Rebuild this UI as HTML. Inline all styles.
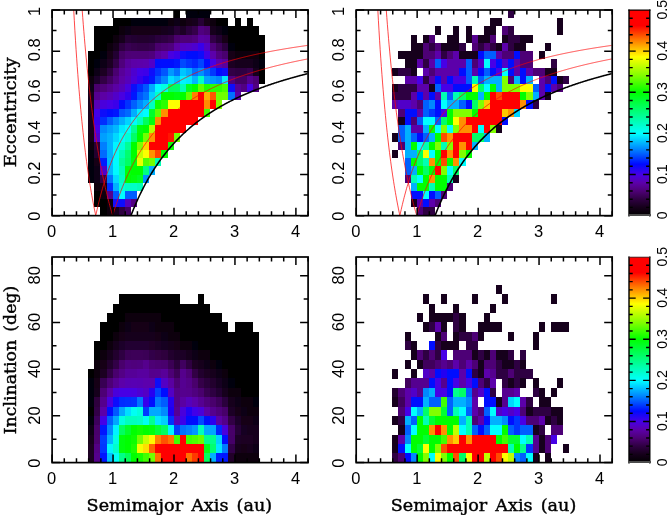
<!DOCTYPE html>
<html><head><meta charset="utf-8"><title>plot</title><style>html,body{margin:0;padding:0;background:#fff}svg{display:block}</style></head><body>
<svg width="667" height="515" viewBox="0 0 667 515">
<rect width="667" height="515" fill="#fff"/>
<style>.t{font-family:"Liberation Sans",sans-serif;font-size:16.5px;fill:#000}.s{font-family:"DejaVu Serif","Liberation Serif",serif;font-size:17.4px;fill:#000;stroke:#000;stroke-width:0.42px;word-spacing:2.5px}</style>
<defs><linearGradient id="cb" x1="0" y1="1" x2="0" y2="0"><stop offset="0.0000" stop-color="#000000"/><stop offset="0.0400" stop-color="#15001a"/><stop offset="0.0800" stop-color="#2f0042"/><stop offset="0.1200" stop-color="#4e0076"/><stop offset="0.1600" stop-color="#5c00aa"/><stop offset="0.2000" stop-color="#4600e6"/><stop offset="0.2500" stop-color="#000aff"/><stop offset="0.3200" stop-color="#0080ff"/><stop offset="0.4000" stop-color="#00ffff"/><stop offset="0.5000" stop-color="#00ff80"/><stop offset="0.6000" stop-color="#00ff00"/><stop offset="0.6800" stop-color="#80ff00"/><stop offset="0.7720" stop-color="#ffff00"/><stop offset="0.8500" stop-color="#ff8000"/><stop offset="0.9240" stop-color="#ff0000"/><stop offset="1.0000" stop-color="#ff0000"/></linearGradient><filter id="bl" x="-5%" y="-5%" width="110%" height="110%"><feGaussianBlur stdDeviation="0.55"/></filter></defs>
<g shape-rendering="crispEdges" filter="url(#bl)">
<rect x="173.60" y="10.00" width="6.09" height="8.23" fill="#050006"/>
<rect x="185.79" y="10.00" width="6.09" height="8.23" fill="#050007"/>
<rect x="191.88" y="10.00" width="12.19" height="8.23" fill="#060007"/>
<rect x="204.08" y="10.00" width="6.09" height="8.23" fill="#050007"/>
<rect x="112.65" y="18.23" width="6.09" height="8.23" fill="#000000"/>
<rect x="118.75" y="18.23" width="6.10" height="8.23" fill="#010002"/>
<rect x="124.84" y="18.23" width="6.09" height="8.23" fill="#040005"/>
<rect x="130.94" y="18.23" width="36.57" height="8.23" fill="#060007"/>
<rect x="167.50" y="18.23" width="6.10" height="8.23" fill="#09000b"/>
<rect x="173.60" y="18.23" width="6.09" height="8.23" fill="#0f0013"/>
<rect x="179.70" y="18.23" width="6.09" height="8.23" fill="#0b000e"/>
<rect x="185.79" y="18.23" width="6.09" height="8.23" fill="#120017"/>
<rect x="191.88" y="18.23" width="6.10" height="8.23" fill="#17001e"/>
<rect x="197.98" y="18.23" width="6.10" height="8.23" fill="#270036"/>
<rect x="204.08" y="18.23" width="6.09" height="8.23" fill="#130018"/>
<rect x="210.17" y="18.23" width="6.10" height="8.23" fill="#08000a"/>
<rect x="216.27" y="18.23" width="6.09" height="8.23" fill="#040005"/>
<rect x="222.36" y="18.23" width="6.10" height="8.23" fill="#020002"/>
<rect x="234.55" y="18.23" width="6.10" height="8.23" fill="#000000"/>
<rect x="246.74" y="18.23" width="6.10" height="8.23" fill="#000000"/>
<rect x="94.37" y="26.45" width="12.19" height="8.23" fill="#000000"/>
<rect x="106.56" y="26.45" width="6.09" height="8.23" fill="#010002"/>
<rect x="112.65" y="26.45" width="6.09" height="8.23" fill="#030004"/>
<rect x="118.75" y="26.45" width="6.10" height="8.23" fill="#070008"/>
<rect x="124.84" y="26.45" width="6.09" height="8.23" fill="#110015"/>
<rect x="130.94" y="26.45" width="6.10" height="8.23" fill="#140018"/>
<rect x="137.03" y="26.45" width="12.19" height="8.23" fill="#130018"/>
<rect x="149.22" y="26.45" width="6.09" height="8.23" fill="#140018"/>
<rect x="155.31" y="26.45" width="6.10" height="8.23" fill="#150019"/>
<rect x="161.41" y="26.45" width="6.09" height="8.23" fill="#15001a"/>
<rect x="167.50" y="26.45" width="6.10" height="8.23" fill="#190021"/>
<rect x="173.60" y="26.45" width="6.09" height="8.23" fill="#270036"/>
<rect x="179.70" y="26.45" width="6.09" height="8.23" fill="#1e0028"/>
<rect x="185.79" y="26.45" width="6.09" height="8.23" fill="#2c003e"/>
<rect x="191.88" y="26.45" width="6.10" height="8.23" fill="#34004b"/>
<rect x="197.98" y="26.45" width="6.10" height="8.23" fill="#50007f"/>
<rect x="204.08" y="26.45" width="6.09" height="8.23" fill="#4c0072"/>
<rect x="210.17" y="26.45" width="6.10" height="8.23" fill="#17001e"/>
<rect x="216.27" y="26.45" width="6.09" height="8.23" fill="#110015"/>
<rect x="222.36" y="26.45" width="6.10" height="8.23" fill="#060008"/>
<rect x="228.46" y="26.45" width="6.09" height="8.23" fill="#010001"/>
<rect x="234.55" y="26.45" width="24.38" height="8.23" fill="#000000"/>
<rect x="94.37" y="34.68" width="12.19" height="8.23" fill="#000000"/>
<rect x="106.56" y="34.68" width="6.09" height="8.23" fill="#030004"/>
<rect x="112.65" y="34.68" width="6.09" height="8.23" fill="#0e0011"/>
<rect x="118.75" y="34.68" width="6.10" height="8.23" fill="#18001f"/>
<rect x="124.84" y="34.68" width="6.09" height="8.23" fill="#260035"/>
<rect x="130.94" y="34.68" width="6.10" height="8.23" fill="#240031"/>
<rect x="137.03" y="34.68" width="12.19" height="8.23" fill="#22002e"/>
<rect x="149.22" y="34.68" width="6.09" height="8.23" fill="#240031"/>
<rect x="155.31" y="34.68" width="6.10" height="8.23" fill="#2c003d"/>
<rect x="161.41" y="34.68" width="6.09" height="8.23" fill="#2f0042"/>
<rect x="167.50" y="34.68" width="6.10" height="8.23" fill="#34004a"/>
<rect x="173.60" y="34.68" width="6.09" height="8.23" fill="#49006e"/>
<rect x="179.70" y="34.68" width="6.09" height="8.23" fill="#4e0078"/>
<rect x="185.79" y="34.68" width="6.09" height="8.23" fill="#4e0077"/>
<rect x="191.88" y="34.68" width="6.10" height="8.23" fill="#510080"/>
<rect x="197.98" y="34.68" width="6.10" height="8.23" fill="#5a00a4"/>
<rect x="204.08" y="34.68" width="6.09" height="8.23" fill="#59009f"/>
<rect x="210.17" y="34.68" width="6.10" height="8.23" fill="#320047"/>
<rect x="216.27" y="34.68" width="6.09" height="8.23" fill="#230030"/>
<rect x="222.36" y="34.68" width="6.10" height="8.23" fill="#130017"/>
<rect x="228.46" y="34.68" width="6.09" height="8.23" fill="#030004"/>
<rect x="234.55" y="34.68" width="30.48" height="8.23" fill="#000000"/>
<rect x="94.37" y="42.90" width="6.09" height="8.23" fill="#000000"/>
<rect x="100.46" y="42.90" width="6.09" height="8.23" fill="#010001"/>
<rect x="106.56" y="42.90" width="6.09" height="8.23" fill="#070009"/>
<rect x="112.65" y="42.90" width="6.09" height="8.23" fill="#17001c"/>
<rect x="118.75" y="42.90" width="6.10" height="8.23" fill="#2d003f"/>
<rect x="124.84" y="42.90" width="6.09" height="8.23" fill="#390053"/>
<rect x="130.94" y="42.90" width="6.10" height="8.23" fill="#35004b"/>
<rect x="137.03" y="42.90" width="12.19" height="8.23" fill="#310046"/>
<rect x="149.22" y="42.90" width="6.09" height="8.23" fill="#36004d"/>
<rect x="155.31" y="42.90" width="6.10" height="8.23" fill="#49006d"/>
<rect x="161.41" y="42.90" width="6.09" height="8.23" fill="#4e0075"/>
<rect x="167.50" y="42.90" width="6.10" height="8.23" fill="#50007e"/>
<rect x="173.60" y="42.90" width="6.09" height="8.23" fill="#5b00a7"/>
<rect x="179.70" y="42.90" width="6.09" height="8.23" fill="#5400c0"/>
<rect x="185.79" y="42.90" width="6.09" height="8.23" fill="#5200c6"/>
<rect x="191.88" y="42.90" width="6.10" height="8.23" fill="#4e00d0"/>
<rect x="197.98" y="42.90" width="6.10" height="8.23" fill="#3902eb"/>
<rect x="204.08" y="42.90" width="6.09" height="8.23" fill="#5200c5"/>
<rect x="210.17" y="42.90" width="6.10" height="8.23" fill="#4f007b"/>
<rect x="216.27" y="42.90" width="6.09" height="8.23" fill="#3d005a"/>
<rect x="222.36" y="42.90" width="6.10" height="8.23" fill="#2c003e"/>
<rect x="228.46" y="42.90" width="6.09" height="8.23" fill="#060008"/>
<rect x="234.55" y="42.90" width="12.19" height="8.23" fill="#020002"/>
<rect x="246.74" y="42.90" width="6.10" height="8.23" fill="#030003"/>
<rect x="252.84" y="42.90" width="6.09" height="8.23" fill="#020002"/>
<rect x="258.93" y="42.90" width="6.10" height="8.23" fill="#010001"/>
<rect x="88.27" y="51.13" width="6.09" height="8.23" fill="#000000"/>
<rect x="94.37" y="51.13" width="6.09" height="8.23" fill="#010001"/>
<rect x="100.46" y="51.13" width="6.09" height="8.23" fill="#060007"/>
<rect x="106.56" y="51.13" width="6.09" height="8.23" fill="#120016"/>
<rect x="112.65" y="51.13" width="6.09" height="8.23" fill="#230030"/>
<rect x="118.75" y="51.13" width="6.10" height="8.23" fill="#440065"/>
<rect x="124.84" y="51.13" width="6.09" height="8.23" fill="#4e0075"/>
<rect x="130.94" y="51.13" width="6.10" height="8.23" fill="#4e0077"/>
<rect x="137.03" y="51.13" width="12.19" height="8.23" fill="#4e0076"/>
<rect x="149.22" y="51.13" width="6.09" height="8.23" fill="#50007d"/>
<rect x="155.31" y="51.13" width="6.10" height="8.23" fill="#59009e"/>
<rect x="161.41" y="51.13" width="6.09" height="8.23" fill="#5b00ac"/>
<rect x="167.50" y="51.13" width="6.10" height="8.23" fill="#4800e1"/>
<rect x="173.60" y="51.13" width="6.09" height="8.23" fill="#3e01e9"/>
<rect x="179.70" y="51.13" width="6.09" height="8.23" fill="#0a09fc"/>
<rect x="185.79" y="51.13" width="6.09" height="8.23" fill="#0409fe"/>
<rect x="191.88" y="51.13" width="6.10" height="8.23" fill="#0509fd"/>
<rect x="197.98" y="51.13" width="6.10" height="8.23" fill="#0b08fb"/>
<rect x="204.08" y="51.13" width="6.09" height="8.23" fill="#4101e8"/>
<rect x="210.17" y="51.13" width="6.10" height="8.23" fill="#5c00ab"/>
<rect x="216.27" y="51.13" width="6.09" height="8.23" fill="#510080"/>
<rect x="222.36" y="51.13" width="6.10" height="8.23" fill="#49006e"/>
<rect x="228.46" y="51.13" width="6.09" height="8.23" fill="#120016"/>
<rect x="234.55" y="51.13" width="6.10" height="8.23" fill="#08000a"/>
<rect x="240.65" y="51.13" width="6.09" height="8.23" fill="#09000b"/>
<rect x="246.74" y="51.13" width="6.10" height="8.23" fill="#0b000d"/>
<rect x="252.84" y="51.13" width="6.09" height="8.23" fill="#08000a"/>
<rect x="258.93" y="51.13" width="6.10" height="8.23" fill="#030004"/>
<rect x="88.27" y="59.36" width="6.09" height="8.23" fill="#010002"/>
<rect x="94.37" y="59.36" width="6.09" height="8.23" fill="#060007"/>
<rect x="100.46" y="59.36" width="6.09" height="8.23" fill="#110014"/>
<rect x="106.56" y="59.36" width="6.09" height="8.23" fill="#1b0024"/>
<rect x="112.65" y="59.36" width="6.09" height="8.23" fill="#320047"/>
<rect x="118.75" y="59.36" width="6.10" height="8.23" fill="#50007c"/>
<rect x="124.84" y="59.36" width="6.09" height="8.23" fill="#58009c"/>
<rect x="130.94" y="59.36" width="6.10" height="8.23" fill="#5b00a7"/>
<rect x="137.03" y="59.36" width="6.09" height="8.23" fill="#5c00aa"/>
<rect x="143.12" y="59.36" width="6.10" height="8.23" fill="#5b00ad"/>
<rect x="149.22" y="59.36" width="6.09" height="8.23" fill="#5100c7"/>
<rect x="155.31" y="59.36" width="6.10" height="8.23" fill="#0509fd"/>
<rect x="161.41" y="59.36" width="6.09" height="8.23" fill="#000cff"/>
<rect x="167.50" y="59.36" width="6.10" height="8.23" fill="#030afe"/>
<rect x="173.60" y="59.36" width="6.09" height="8.23" fill="#0012ff"/>
<rect x="179.70" y="59.36" width="6.09" height="8.23" fill="#0049ff"/>
<rect x="185.79" y="59.36" width="6.09" height="8.23" fill="#0034ff"/>
<rect x="191.88" y="59.36" width="6.10" height="8.23" fill="#0026ff"/>
<rect x="197.98" y="59.36" width="6.10" height="8.23" fill="#0044ff"/>
<rect x="204.08" y="59.36" width="6.09" height="8.23" fill="#000dff"/>
<rect x="210.17" y="59.36" width="6.10" height="8.23" fill="#4400e7"/>
<rect x="216.27" y="59.36" width="6.09" height="8.23" fill="#5a00af"/>
<rect x="222.36" y="59.36" width="6.10" height="8.23" fill="#59009e"/>
<rect x="228.46" y="59.36" width="6.09" height="8.23" fill="#1b0023"/>
<rect x="234.55" y="59.36" width="6.10" height="8.23" fill="#17001d"/>
<rect x="240.65" y="59.36" width="6.09" height="8.23" fill="#17001c"/>
<rect x="246.74" y="59.36" width="6.10" height="8.23" fill="#16001b"/>
<rect x="252.84" y="59.36" width="6.09" height="8.23" fill="#0f0013"/>
<rect x="258.93" y="59.36" width="6.10" height="8.23" fill="#050007"/>
<rect x="88.27" y="67.58" width="6.09" height="8.23" fill="#050006"/>
<rect x="94.37" y="67.58" width="6.09" height="8.23" fill="#110015"/>
<rect x="100.46" y="67.58" width="6.09" height="8.23" fill="#1c0024"/>
<rect x="106.56" y="67.58" width="6.09" height="8.23" fill="#2e0040"/>
<rect x="112.65" y="67.58" width="6.09" height="8.23" fill="#4a006f"/>
<rect x="118.75" y="67.58" width="6.10" height="8.23" fill="#580099"/>
<rect x="124.84" y="67.58" width="6.09" height="8.23" fill="#5a00af"/>
<rect x="130.94" y="67.58" width="6.10" height="8.23" fill="#4e00cf"/>
<rect x="137.03" y="67.58" width="6.09" height="8.23" fill="#4300e7"/>
<rect x="143.12" y="67.58" width="6.10" height="8.23" fill="#3e01e9"/>
<rect x="149.22" y="67.58" width="6.09" height="8.23" fill="#0909fc"/>
<rect x="155.31" y="67.58" width="6.10" height="8.23" fill="#0030ff"/>
<rect x="161.41" y="67.58" width="6.09" height="8.23" fill="#0057ff"/>
<rect x="167.50" y="67.58" width="6.10" height="8.23" fill="#0098ff"/>
<rect x="173.60" y="67.58" width="6.09" height="8.23" fill="#0071ff"/>
<rect x="179.70" y="67.58" width="6.09" height="8.23" fill="#00c5ff"/>
<rect x="185.79" y="67.58" width="6.09" height="8.23" fill="#00adff"/>
<rect x="191.88" y="67.58" width="6.10" height="8.23" fill="#0071ff"/>
<rect x="197.98" y="67.58" width="6.10" height="8.23" fill="#008fff"/>
<rect x="204.08" y="67.58" width="6.09" height="8.23" fill="#0064ff"/>
<rect x="210.17" y="67.58" width="6.10" height="8.23" fill="#0038ff"/>
<rect x="216.27" y="67.58" width="6.09" height="8.23" fill="#000fff"/>
<rect x="222.36" y="67.58" width="6.10" height="8.23" fill="#0809fc"/>
<rect x="228.46" y="67.58" width="6.09" height="8.23" fill="#300044"/>
<rect x="234.55" y="67.58" width="6.10" height="8.23" fill="#2d0040"/>
<rect x="240.65" y="67.58" width="6.09" height="8.23" fill="#2f0042"/>
<rect x="246.74" y="67.58" width="6.10" height="8.23" fill="#35004c"/>
<rect x="252.84" y="67.58" width="6.09" height="8.23" fill="#15001a"/>
<rect x="258.93" y="67.58" width="6.10" height="8.23" fill="#050006"/>
<rect x="88.27" y="75.81" width="6.09" height="8.23" fill="#08000a"/>
<rect x="94.37" y="75.81" width="6.09" height="8.23" fill="#1f002a"/>
<rect x="100.46" y="75.81" width="6.09" height="8.23" fill="#310045"/>
<rect x="106.56" y="75.81" width="6.09" height="8.23" fill="#420062"/>
<rect x="112.65" y="75.81" width="6.09" height="8.23" fill="#510083"/>
<rect x="118.75" y="75.81" width="6.10" height="8.23" fill="#5b00a5"/>
<rect x="124.84" y="75.81" width="6.09" height="8.23" fill="#5600ba"/>
<rect x="130.94" y="75.81" width="6.10" height="8.23" fill="#4b00d9"/>
<rect x="137.03" y="75.81" width="6.09" height="8.23" fill="#3502ec"/>
<rect x="143.12" y="75.81" width="6.10" height="8.23" fill="#1c06f5"/>
<rect x="149.22" y="75.81" width="6.09" height="8.23" fill="#0015ff"/>
<rect x="155.31" y="75.81" width="6.10" height="8.23" fill="#005aff"/>
<rect x="161.41" y="75.81" width="6.09" height="8.23" fill="#0088ff"/>
<rect x="167.50" y="75.81" width="6.10" height="8.23" fill="#00dfff"/>
<rect x="173.60" y="75.81" width="6.09" height="8.23" fill="#00c1ff"/>
<rect x="179.70" y="75.81" width="6.09" height="8.23" fill="#00f2ff"/>
<rect x="185.79" y="75.81" width="6.09" height="8.23" fill="#00e9ff"/>
<rect x="191.88" y="75.81" width="6.10" height="8.23" fill="#00b4ff"/>
<rect x="197.98" y="75.81" width="6.10" height="8.23" fill="#00ffc5"/>
<rect x="204.08" y="75.81" width="6.09" height="8.23" fill="#00a3ff"/>
<rect x="210.17" y="75.81" width="6.10" height="8.23" fill="#0096ff"/>
<rect x="216.27" y="75.81" width="6.09" height="8.23" fill="#0086ff"/>
<rect x="222.36" y="75.81" width="6.10" height="8.23" fill="#00e8ff"/>
<rect x="228.46" y="75.81" width="6.09" height="8.23" fill="#50007f"/>
<rect x="234.55" y="75.81" width="6.10" height="8.23" fill="#420063"/>
<rect x="240.65" y="75.81" width="6.09" height="8.23" fill="#430064"/>
<rect x="246.74" y="75.81" width="6.10" height="8.23" fill="#54008d"/>
<rect x="252.84" y="75.81" width="6.09" height="8.23" fill="#4d0074"/>
<rect x="258.93" y="75.81" width="6.10" height="8.23" fill="#040005"/>
<rect x="88.27" y="84.03" width="6.09" height="8.23" fill="#0f0012"/>
<rect x="94.37" y="84.03" width="6.09" height="8.23" fill="#48006c"/>
<rect x="100.46" y="84.03" width="6.09" height="8.23" fill="#4f007a"/>
<rect x="106.56" y="84.03" width="6.09" height="8.23" fill="#54008e"/>
<rect x="112.65" y="84.03" width="6.09" height="8.23" fill="#5a00a4"/>
<rect x="118.75" y="84.03" width="6.10" height="8.23" fill="#5700b9"/>
<rect x="124.84" y="84.03" width="6.09" height="8.23" fill="#4900dd"/>
<rect x="130.94" y="84.03" width="6.10" height="8.23" fill="#0f08fa"/>
<rect x="137.03" y="84.03" width="6.09" height="8.23" fill="#002dff"/>
<rect x="143.12" y="84.03" width="6.10" height="8.23" fill="#0056ff"/>
<rect x="149.22" y="84.03" width="6.09" height="8.23" fill="#00a9ff"/>
<rect x="155.31" y="84.03" width="6.10" height="8.23" fill="#00faff"/>
<rect x="161.41" y="84.03" width="6.09" height="8.23" fill="#00ffe0"/>
<rect x="167.50" y="84.03" width="6.10" height="8.23" fill="#00ff5f"/>
<rect x="173.60" y="84.03" width="6.09" height="8.23" fill="#00ff64"/>
<rect x="179.70" y="84.03" width="6.09" height="8.23" fill="#00ffb4"/>
<rect x="185.79" y="84.03" width="6.09" height="8.23" fill="#00ff24"/>
<rect x="191.88" y="84.03" width="6.10" height="8.23" fill="#02ff00"/>
<rect x="197.98" y="84.03" width="6.10" height="8.23" fill="#62ff00"/>
<rect x="204.08" y="84.03" width="6.09" height="8.23" fill="#1fff00"/>
<rect x="210.17" y="84.03" width="6.10" height="8.23" fill="#2cff00"/>
<rect x="216.27" y="84.03" width="6.09" height="8.23" fill="#2aff00"/>
<rect x="222.36" y="84.03" width="6.10" height="8.23" fill="#47ff00"/>
<rect x="228.46" y="84.03" width="6.09" height="8.23" fill="#0709fc"/>
<rect x="234.55" y="84.03" width="6.10" height="8.23" fill="#570098"/>
<rect x="240.65" y="84.03" width="6.09" height="8.23" fill="#510082"/>
<rect x="246.74" y="84.03" width="6.10" height="8.23" fill="#4600e5"/>
<rect x="252.84" y="84.03" width="6.09" height="8.23" fill="#510080"/>
<rect x="88.27" y="92.26" width="6.09" height="8.23" fill="#17001c"/>
<rect x="94.37" y="92.26" width="6.09" height="8.23" fill="#550090"/>
<rect x="100.46" y="92.26" width="6.09" height="8.23" fill="#5b00a5"/>
<rect x="106.56" y="92.26" width="6.09" height="8.23" fill="#5800b4"/>
<rect x="112.65" y="92.26" width="6.09" height="8.23" fill="#5100c8"/>
<rect x="118.75" y="92.26" width="6.10" height="8.23" fill="#4800e1"/>
<rect x="124.84" y="92.26" width="6.09" height="8.23" fill="#3303ed"/>
<rect x="130.94" y="92.26" width="6.10" height="8.23" fill="#0018ff"/>
<rect x="137.03" y="92.26" width="6.09" height="8.23" fill="#0057ff"/>
<rect x="143.12" y="92.26" width="6.10" height="8.23" fill="#0073ff"/>
<rect x="149.22" y="92.26" width="6.09" height="8.23" fill="#00d1ff"/>
<rect x="155.31" y="92.26" width="6.10" height="8.23" fill="#00ffca"/>
<rect x="161.41" y="92.26" width="6.09" height="8.23" fill="#06ff00"/>
<rect x="167.50" y="92.26" width="6.10" height="8.23" fill="#00ff05"/>
<rect x="173.60" y="92.26" width="6.09" height="8.23" fill="#00ff0b"/>
<rect x="179.70" y="92.26" width="6.09" height="8.23" fill="#00ff02"/>
<rect x="185.79" y="92.26" width="6.09" height="8.23" fill="#62ff00"/>
<rect x="191.88" y="92.26" width="6.10" height="8.23" fill="#ff7f00"/>
<rect x="197.98" y="92.26" width="6.10" height="8.23" fill="#ff0000"/>
<rect x="204.08" y="92.26" width="6.09" height="8.23" fill="#ffab00"/>
<rect x="210.17" y="92.26" width="6.10" height="8.23" fill="#ff5700"/>
<rect x="216.27" y="92.26" width="6.09" height="8.23" fill="#6eff00"/>
<rect x="222.36" y="92.26" width="6.10" height="8.23" fill="#70ff00"/>
<rect x="228.46" y="92.26" width="6.09" height="8.23" fill="#0072ff"/>
<rect x="234.55" y="92.26" width="6.10" height="8.23" fill="#5b00a8"/>
<rect x="88.27" y="100.49" width="6.09" height="8.23" fill="#17001e"/>
<rect x="94.37" y="100.49" width="6.09" height="8.23" fill="#5800b5"/>
<rect x="100.46" y="100.49" width="6.09" height="8.23" fill="#4a00dc"/>
<rect x="106.56" y="100.49" width="6.09" height="8.23" fill="#4400e7"/>
<rect x="112.65" y="100.49" width="6.09" height="8.23" fill="#3a02ea"/>
<rect x="118.75" y="100.49" width="6.10" height="8.23" fill="#0509fd"/>
<rect x="124.84" y="100.49" width="6.09" height="8.23" fill="#0033ff"/>
<rect x="130.94" y="100.49" width="6.10" height="8.23" fill="#005eff"/>
<rect x="137.03" y="100.49" width="6.09" height="8.23" fill="#0089ff"/>
<rect x="143.12" y="100.49" width="6.10" height="8.23" fill="#00afff"/>
<rect x="149.22" y="100.49" width="6.09" height="8.23" fill="#00ffc0"/>
<rect x="155.31" y="100.49" width="6.10" height="8.23" fill="#0eff00"/>
<rect x="161.41" y="100.49" width="6.09" height="8.23" fill="#29ff00"/>
<rect x="167.50" y="100.49" width="6.10" height="8.23" fill="#fffe00"/>
<rect x="173.60" y="100.49" width="6.09" height="8.23" fill="#fcff00"/>
<rect x="179.70" y="100.49" width="24.38" height="8.23" fill="#ff0000"/>
<rect x="204.08" y="100.49" width="6.09" height="8.23" fill="#ff8c00"/>
<rect x="210.17" y="100.49" width="6.10" height="8.23" fill="#ff0000"/>
<rect x="216.27" y="100.49" width="6.09" height="8.23" fill="#80ff00"/>
<rect x="88.27" y="108.71" width="6.09" height="8.23" fill="#16001b"/>
<rect x="94.37" y="108.71" width="6.09" height="8.23" fill="#4201e7"/>
<rect x="100.46" y="108.71" width="6.09" height="8.23" fill="#0f08fa"/>
<rect x="106.56" y="108.71" width="6.09" height="8.23" fill="#020afe"/>
<rect x="112.65" y="108.71" width="6.09" height="8.23" fill="#0014ff"/>
<rect x="118.75" y="108.71" width="6.10" height="8.23" fill="#0057ff"/>
<rect x="124.84" y="108.71" width="6.09" height="8.23" fill="#006aff"/>
<rect x="130.94" y="108.71" width="6.10" height="8.23" fill="#00adff"/>
<rect x="137.03" y="108.71" width="6.09" height="8.23" fill="#00f1ff"/>
<rect x="143.12" y="108.71" width="6.10" height="8.23" fill="#00fdff"/>
<rect x="149.22" y="108.71" width="6.09" height="8.23" fill="#00ff2b"/>
<rect x="155.31" y="108.71" width="6.10" height="8.23" fill="#5eff00"/>
<rect x="161.41" y="108.71" width="6.09" height="8.23" fill="#ff8e00"/>
<rect x="167.50" y="108.71" width="36.57" height="8.23" fill="#ff0000"/>
<rect x="204.08" y="108.71" width="6.09" height="8.23" fill="#40ff00"/>
<rect x="88.27" y="116.94" width="6.09" height="8.23" fill="#15001b"/>
<rect x="94.37" y="116.94" width="6.09" height="8.23" fill="#3902eb"/>
<rect x="100.46" y="116.94" width="6.09" height="8.23" fill="#002fff"/>
<rect x="106.56" y="116.94" width="6.09" height="8.23" fill="#005dff"/>
<rect x="112.65" y="116.94" width="6.09" height="8.23" fill="#0087ff"/>
<rect x="118.75" y="116.94" width="6.10" height="8.23" fill="#00aeff"/>
<rect x="124.84" y="116.94" width="6.09" height="8.23" fill="#00d4ff"/>
<rect x="130.94" y="116.94" width="6.10" height="8.23" fill="#00fbff"/>
<rect x="137.03" y="116.94" width="6.09" height="8.23" fill="#00ffbe"/>
<rect x="143.12" y="116.94" width="6.10" height="8.23" fill="#00ff5a"/>
<rect x="149.22" y="116.94" width="6.09" height="8.23" fill="#00ff0e"/>
<rect x="155.31" y="116.94" width="6.10" height="8.23" fill="#ff8800"/>
<rect x="161.41" y="116.94" width="36.57" height="8.23" fill="#ff0000"/>
<rect x="88.27" y="125.16" width="6.09" height="8.23" fill="#16001b"/>
<rect x="94.37" y="125.16" width="6.09" height="8.23" fill="#4600e5"/>
<rect x="100.46" y="125.16" width="6.09" height="8.23" fill="#0089ff"/>
<rect x="106.56" y="125.16" width="6.09" height="8.23" fill="#00a0ff"/>
<rect x="112.65" y="125.16" width="6.09" height="8.23" fill="#00b7ff"/>
<rect x="118.75" y="125.16" width="6.10" height="8.23" fill="#00eaff"/>
<rect x="124.84" y="125.16" width="6.09" height="8.23" fill="#00fffd"/>
<rect x="130.94" y="125.16" width="6.10" height="8.23" fill="#00ff96"/>
<rect x="137.03" y="125.16" width="6.09" height="8.23" fill="#00ff07"/>
<rect x="143.12" y="125.16" width="6.10" height="8.23" fill="#02ff00"/>
<rect x="149.22" y="125.16" width="6.09" height="8.23" fill="#b5ff00"/>
<rect x="155.31" y="125.16" width="30.48" height="8.23" fill="#ff0000"/>
<rect x="88.27" y="133.39" width="6.09" height="8.23" fill="#130018"/>
<rect x="94.37" y="133.39" width="6.09" height="8.23" fill="#5000cb"/>
<rect x="100.46" y="133.39" width="6.09" height="8.23" fill="#009fff"/>
<rect x="106.56" y="133.39" width="6.09" height="8.23" fill="#00b2ff"/>
<rect x="112.65" y="133.39" width="6.09" height="8.23" fill="#00d8ff"/>
<rect x="118.75" y="133.39" width="6.10" height="8.23" fill="#00fffb"/>
<rect x="124.84" y="133.39" width="6.09" height="8.23" fill="#00ffd9"/>
<rect x="130.94" y="133.39" width="6.10" height="8.23" fill="#00ff67"/>
<rect x="137.03" y="133.39" width="6.09" height="8.23" fill="#06ff00"/>
<rect x="143.12" y="133.39" width="6.10" height="8.23" fill="#6fff00"/>
<rect x="149.22" y="133.39" width="6.09" height="8.23" fill="#ff9200"/>
<rect x="155.31" y="133.39" width="12.19" height="8.23" fill="#ff0000"/>
<rect x="167.50" y="133.39" width="6.10" height="8.23" fill="#ff1800"/>
<rect x="173.60" y="133.39" width="6.09" height="8.23" fill="#76ff00"/>
<rect x="88.27" y="141.62" width="6.09" height="8.23" fill="#09000b"/>
<rect x="94.37" y="141.62" width="6.09" height="8.23" fill="#290038"/>
<rect x="100.46" y="141.62" width="6.09" height="8.23" fill="#007fff"/>
<rect x="106.56" y="141.62" width="6.09" height="8.23" fill="#00b2ff"/>
<rect x="112.65" y="141.62" width="6.09" height="8.23" fill="#00f4ff"/>
<rect x="118.75" y="141.62" width="6.10" height="8.23" fill="#00ffdc"/>
<rect x="124.84" y="141.62" width="6.09" height="8.23" fill="#00ff95"/>
<rect x="130.94" y="141.62" width="6.10" height="8.23" fill="#00ff06"/>
<rect x="137.03" y="141.62" width="6.09" height="8.23" fill="#7bff00"/>
<rect x="143.12" y="141.62" width="6.10" height="8.23" fill="#ffd300"/>
<rect x="149.22" y="141.62" width="18.28" height="8.23" fill="#ff0000"/>
<rect x="167.50" y="141.62" width="6.10" height="8.23" fill="#08ff00"/>
<rect x="88.27" y="149.84" width="6.09" height="8.23" fill="#060007"/>
<rect x="94.37" y="149.84" width="6.09" height="8.23" fill="#23002f"/>
<rect x="100.46" y="149.84" width="6.09" height="8.23" fill="#006aff"/>
<rect x="106.56" y="149.84" width="6.09" height="8.23" fill="#00b2ff"/>
<rect x="112.65" y="149.84" width="6.09" height="8.23" fill="#00fcff"/>
<rect x="118.75" y="149.84" width="6.10" height="8.23" fill="#00ffb3"/>
<rect x="124.84" y="149.84" width="6.09" height="8.23" fill="#00ff6e"/>
<rect x="130.94" y="149.84" width="6.10" height="8.23" fill="#00ff06"/>
<rect x="137.03" y="149.84" width="6.09" height="8.23" fill="#c5ff00"/>
<rect x="143.12" y="149.84" width="6.10" height="8.23" fill="#fdff00"/>
<rect x="149.22" y="149.84" width="6.09" height="8.23" fill="#ff9100"/>
<rect x="155.31" y="149.84" width="6.10" height="8.23" fill="#ff4300"/>
<rect x="161.41" y="149.84" width="6.09" height="8.23" fill="#00ff01"/>
<rect x="88.27" y="158.07" width="6.09" height="8.23" fill="#060007"/>
<rect x="94.37" y="158.07" width="6.09" height="8.23" fill="#120016"/>
<rect x="100.46" y="158.07" width="6.09" height="8.23" fill="#001cff"/>
<rect x="106.56" y="158.07" width="6.09" height="8.23" fill="#00b9ff"/>
<rect x="112.65" y="158.07" width="6.09" height="8.23" fill="#00fbff"/>
<rect x="118.75" y="158.07" width="6.10" height="8.23" fill="#00ff98"/>
<rect x="124.84" y="158.07" width="6.09" height="8.23" fill="#00ff63"/>
<rect x="130.94" y="158.07" width="6.10" height="8.23" fill="#00ff08"/>
<rect x="137.03" y="158.07" width="6.09" height="8.23" fill="#ebff00"/>
<rect x="143.12" y="158.07" width="6.10" height="8.23" fill="#52ff00"/>
<rect x="149.22" y="158.07" width="6.09" height="8.23" fill="#73ff00"/>
<rect x="155.31" y="158.07" width="6.10" height="8.23" fill="#00ffb5"/>
<rect x="88.27" y="166.29" width="6.09" height="8.23" fill="#060007"/>
<rect x="94.37" y="166.29" width="6.09" height="8.23" fill="#110015"/>
<rect x="100.46" y="166.29" width="6.09" height="8.23" fill="#5000ca"/>
<rect x="106.56" y="166.29" width="6.09" height="8.23" fill="#00b6ff"/>
<rect x="112.65" y="166.29" width="6.09" height="8.23" fill="#00f9ff"/>
<rect x="118.75" y="166.29" width="6.10" height="8.23" fill="#00ffb6"/>
<rect x="124.84" y="166.29" width="6.09" height="8.23" fill="#00ff08"/>
<rect x="130.94" y="166.29" width="6.10" height="8.23" fill="#00ff05"/>
<rect x="137.03" y="166.29" width="6.09" height="8.23" fill="#00ff06"/>
<rect x="143.12" y="166.29" width="6.10" height="8.23" fill="#00ff7f"/>
<rect x="149.22" y="166.29" width="6.09" height="8.23" fill="#00adff"/>
<rect x="88.27" y="174.52" width="6.09" height="8.23" fill="#050007"/>
<rect x="94.37" y="174.52" width="6.09" height="8.23" fill="#110015"/>
<rect x="100.46" y="174.52" width="6.09" height="8.23" fill="#310045"/>
<rect x="106.56" y="174.52" width="6.09" height="8.23" fill="#0073ff"/>
<rect x="112.65" y="174.52" width="6.09" height="8.23" fill="#00daff"/>
<rect x="118.75" y="174.52" width="6.10" height="8.23" fill="#00ffc4"/>
<rect x="124.84" y="174.52" width="6.09" height="8.23" fill="#00ff02"/>
<rect x="130.94" y="174.52" width="6.10" height="8.23" fill="#00ff08"/>
<rect x="137.03" y="174.52" width="6.09" height="8.23" fill="#00ff24"/>
<rect x="143.12" y="174.52" width="6.10" height="8.23" fill="#0092ff"/>
<rect x="94.37" y="182.75" width="6.09" height="8.23" fill="#080009"/>
<rect x="100.46" y="182.75" width="6.09" height="8.23" fill="#120016"/>
<rect x="106.56" y="182.75" width="6.09" height="8.23" fill="#0029ff"/>
<rect x="112.65" y="182.75" width="6.09" height="8.23" fill="#00b2ff"/>
<rect x="118.75" y="182.75" width="6.10" height="8.23" fill="#00ffdd"/>
<rect x="124.84" y="182.75" width="6.09" height="8.23" fill="#00ffc6"/>
<rect x="130.94" y="182.75" width="6.10" height="8.23" fill="#00ffc7"/>
<rect x="137.03" y="182.75" width="6.09" height="8.23" fill="#00ffb9"/>
<rect x="94.37" y="190.97" width="6.09" height="8.23" fill="#030004"/>
<rect x="100.46" y="190.97" width="6.09" height="8.23" fill="#09000b"/>
<rect x="106.56" y="190.97" width="6.09" height="8.23" fill="#54008b"/>
<rect x="112.65" y="190.97" width="6.09" height="8.23" fill="#0059ff"/>
<rect x="118.75" y="190.97" width="6.10" height="8.23" fill="#00fdff"/>
<rect x="124.84" y="190.97" width="6.09" height="8.23" fill="#005dff"/>
<rect x="130.94" y="190.97" width="6.10" height="8.23" fill="#005fff"/>
<rect x="94.37" y="199.20" width="6.09" height="8.23" fill="#010001"/>
<rect x="100.46" y="199.20" width="6.09" height="8.23" fill="#040005"/>
<rect x="106.56" y="199.20" width="6.09" height="8.23" fill="#0d0010"/>
<rect x="112.65" y="199.20" width="6.09" height="8.23" fill="#1207f8"/>
<rect x="118.75" y="199.20" width="6.10" height="8.23" fill="#0709fc"/>
<rect x="124.84" y="199.20" width="6.09" height="8.23" fill="#5500bd"/>
<rect x="130.94" y="199.20" width="6.10" height="8.23" fill="#510080"/>
<rect x="100.46" y="207.42" width="6.09" height="8.23" fill="#020002"/>
<rect x="106.56" y="207.42" width="6.09" height="8.23" fill="#070008"/>
<rect x="112.65" y="207.42" width="6.09" height="8.23" fill="#15001a"/>
<rect x="118.75" y="207.42" width="6.10" height="8.23" fill="#2f0041"/>
<rect x="124.84" y="207.42" width="6.09" height="8.23" fill="#420062"/>
</g>
<g shape-rendering="crispEdges" filter="url(#bl)">
<rect x="508.18" y="10.00" width="6.09" height="8.23" fill="#2f0042"/>
<rect x="489.89" y="18.23" width="12.19" height="8.23" fill="#15001a"/>
<rect x="556.94" y="18.23" width="6.09" height="8.23" fill="#15001a"/>
<rect x="435.04" y="26.45" width="6.09" height="8.23" fill="#15001a"/>
<rect x="453.32" y="26.45" width="6.09" height="8.23" fill="#15001a"/>
<rect x="465.51" y="26.45" width="6.10" height="8.23" fill="#15001a"/>
<rect x="483.80" y="26.45" width="12.19" height="8.23" fill="#15001a"/>
<rect x="502.08" y="26.45" width="6.10" height="8.23" fill="#4e0076"/>
<rect x="508.18" y="26.45" width="6.09" height="8.23" fill="#2f0042"/>
<rect x="556.94" y="26.45" width="6.09" height="8.23" fill="#15001a"/>
<rect x="410.66" y="34.68" width="6.09" height="8.23" fill="#15001a"/>
<rect x="422.85" y="34.68" width="6.10" height="8.23" fill="#15001a"/>
<rect x="428.94" y="34.68" width="6.09" height="8.23" fill="#4e0076"/>
<rect x="447.23" y="34.68" width="12.19" height="8.23" fill="#15001a"/>
<rect x="465.51" y="34.68" width="6.10" height="8.23" fill="#15001a"/>
<rect x="471.61" y="34.68" width="6.10" height="8.23" fill="#550090"/>
<rect x="477.70" y="34.68" width="12.19" height="8.23" fill="#15001a"/>
<rect x="489.89" y="34.68" width="6.10" height="8.23" fill="#4e0076"/>
<rect x="502.08" y="34.68" width="6.10" height="8.23" fill="#15001a"/>
<rect x="508.18" y="34.68" width="12.19" height="8.23" fill="#2f0042"/>
<rect x="520.37" y="34.68" width="12.19" height="8.23" fill="#15001a"/>
<rect x="410.66" y="42.90" width="12.19" height="8.23" fill="#15001a"/>
<rect x="422.85" y="42.90" width="6.10" height="8.23" fill="#4e0076"/>
<rect x="428.94" y="42.90" width="6.09" height="8.23" fill="#2f0042"/>
<rect x="435.04" y="42.90" width="6.09" height="8.23" fill="#4e0076"/>
<rect x="441.13" y="42.90" width="18.29" height="8.23" fill="#15001a"/>
<rect x="459.42" y="42.90" width="6.09" height="8.23" fill="#2f0042"/>
<rect x="471.61" y="42.90" width="6.10" height="8.23" fill="#4e0076"/>
<rect x="477.70" y="42.90" width="6.09" height="8.23" fill="#2f0042"/>
<rect x="483.80" y="42.90" width="6.09" height="8.23" fill="#4e0076"/>
<rect x="489.89" y="42.90" width="6.10" height="8.23" fill="#2f0042"/>
<rect x="495.99" y="42.90" width="6.10" height="8.23" fill="#15001a"/>
<rect x="502.08" y="42.90" width="6.10" height="8.23" fill="#5c00aa"/>
<rect x="508.18" y="42.90" width="6.09" height="8.23" fill="#2f0042"/>
<rect x="514.27" y="42.90" width="12.19" height="8.23" fill="#15001a"/>
<rect x="544.75" y="42.90" width="6.10" height="8.23" fill="#15001a"/>
<rect x="398.47" y="51.13" width="24.38" height="8.23" fill="#15001a"/>
<rect x="422.85" y="51.13" width="12.19" height="8.23" fill="#4e0076"/>
<rect x="435.04" y="51.13" width="6.09" height="8.23" fill="#5c00aa"/>
<rect x="441.13" y="51.13" width="6.10" height="8.23" fill="#2f0042"/>
<rect x="447.23" y="51.13" width="6.10" height="8.23" fill="#4e0076"/>
<rect x="453.32" y="51.13" width="6.09" height="8.23" fill="#5c00aa"/>
<rect x="459.42" y="51.13" width="18.29" height="8.23" fill="#15001a"/>
<rect x="477.70" y="51.13" width="6.09" height="8.23" fill="#000aff"/>
<rect x="483.80" y="51.13" width="12.19" height="8.23" fill="#005eff"/>
<rect x="495.99" y="51.13" width="6.10" height="8.23" fill="#5c00aa"/>
<rect x="502.08" y="51.13" width="12.19" height="8.23" fill="#4e0076"/>
<rect x="514.27" y="51.13" width="6.10" height="8.23" fill="#000aff"/>
<rect x="520.37" y="51.13" width="12.19" height="8.23" fill="#4e0076"/>
<rect x="538.65" y="51.13" width="6.09" height="8.23" fill="#15001a"/>
<rect x="404.56" y="59.36" width="12.19" height="8.23" fill="#15001a"/>
<rect x="416.75" y="59.36" width="6.10" height="8.23" fill="#5c00aa"/>
<rect x="422.85" y="59.36" width="6.10" height="8.23" fill="#2f0042"/>
<rect x="428.94" y="59.36" width="6.09" height="8.23" fill="#5c00aa"/>
<rect x="435.04" y="59.36" width="6.09" height="8.23" fill="#005eff"/>
<rect x="441.13" y="59.36" width="6.10" height="8.23" fill="#4600e6"/>
<rect x="447.23" y="59.36" width="18.28" height="8.23" fill="#5c00aa"/>
<rect x="465.51" y="59.36" width="6.10" height="8.23" fill="#005eff"/>
<rect x="471.61" y="59.36" width="6.10" height="8.23" fill="#4e0076"/>
<rect x="477.70" y="59.36" width="6.09" height="8.23" fill="#5100c8"/>
<rect x="483.80" y="59.36" width="6.09" height="8.23" fill="#00ffff"/>
<rect x="489.89" y="59.36" width="6.10" height="8.23" fill="#4600e6"/>
<rect x="495.99" y="59.36" width="6.10" height="8.23" fill="#000aff"/>
<rect x="502.08" y="59.36" width="6.10" height="8.23" fill="#5100c8"/>
<rect x="508.18" y="59.36" width="6.09" height="8.23" fill="#000aff"/>
<rect x="514.27" y="59.36" width="6.10" height="8.23" fill="#5c00aa"/>
<rect x="520.37" y="59.36" width="12.19" height="8.23" fill="#4e0076"/>
<rect x="550.84" y="59.36" width="6.10" height="8.23" fill="#2f0042"/>
<rect x="392.37" y="67.58" width="6.10" height="8.23" fill="#15001a"/>
<rect x="398.47" y="67.58" width="12.19" height="8.23" fill="#2f0042"/>
<rect x="410.66" y="67.58" width="6.09" height="8.23" fill="#15001a"/>
<rect x="422.85" y="67.58" width="6.10" height="8.23" fill="#5c00aa"/>
<rect x="428.94" y="67.58" width="6.09" height="8.23" fill="#4e0076"/>
<rect x="435.04" y="67.58" width="24.38" height="8.23" fill="#5c00aa"/>
<rect x="459.42" y="67.58" width="6.09" height="8.23" fill="#000aff"/>
<rect x="465.51" y="67.58" width="6.10" height="8.23" fill="#005eff"/>
<rect x="471.61" y="67.58" width="6.10" height="8.23" fill="#5c00aa"/>
<rect x="477.70" y="67.58" width="6.09" height="8.23" fill="#000aff"/>
<rect x="483.80" y="67.58" width="6.09" height="8.23" fill="#005eff"/>
<rect x="489.89" y="67.58" width="6.10" height="8.23" fill="#000aff"/>
<rect x="495.99" y="67.58" width="6.10" height="8.23" fill="#4600e6"/>
<rect x="502.08" y="67.58" width="6.10" height="8.23" fill="#00ffff"/>
<rect x="508.18" y="67.58" width="6.09" height="8.23" fill="#000aff"/>
<rect x="514.27" y="67.58" width="6.10" height="8.23" fill="#5c00aa"/>
<rect x="520.37" y="67.58" width="6.10" height="8.23" fill="#000aff"/>
<rect x="526.46" y="67.58" width="6.10" height="8.23" fill="#5c00aa"/>
<rect x="532.56" y="67.58" width="12.19" height="8.23" fill="#4e0076"/>
<rect x="544.75" y="67.58" width="12.19" height="8.23" fill="#15001a"/>
<rect x="404.56" y="75.81" width="12.19" height="8.23" fill="#5c00aa"/>
<rect x="416.75" y="75.81" width="6.10" height="8.23" fill="#4600e6"/>
<rect x="422.85" y="75.81" width="6.10" height="8.23" fill="#2f0042"/>
<rect x="428.94" y="75.81" width="6.09" height="8.23" fill="#5c00aa"/>
<rect x="435.04" y="75.81" width="6.09" height="8.23" fill="#000aff"/>
<rect x="441.13" y="75.81" width="6.10" height="8.23" fill="#5c00aa"/>
<rect x="447.23" y="75.81" width="6.10" height="8.23" fill="#000aff"/>
<rect x="453.32" y="75.81" width="12.19" height="8.23" fill="#4600e6"/>
<rect x="465.51" y="75.81" width="6.10" height="8.23" fill="#005eff"/>
<rect x="471.61" y="75.81" width="6.10" height="8.23" fill="#00ffb3"/>
<rect x="477.70" y="75.81" width="6.09" height="8.23" fill="#005eff"/>
<rect x="483.80" y="75.81" width="18.29" height="8.23" fill="#00b0ff"/>
<rect x="502.08" y="75.81" width="6.10" height="8.23" fill="#80ff00"/>
<rect x="508.18" y="75.81" width="6.09" height="8.23" fill="#4e0076"/>
<rect x="514.27" y="75.81" width="6.10" height="8.23" fill="#00b0ff"/>
<rect x="520.37" y="75.81" width="6.10" height="8.23" fill="#000aff"/>
<rect x="526.46" y="75.81" width="6.10" height="8.23" fill="#00b0ff"/>
<rect x="538.65" y="75.81" width="6.09" height="8.23" fill="#5c00aa"/>
<rect x="544.75" y="75.81" width="6.10" height="8.23" fill="#4e0076"/>
<rect x="550.84" y="75.81" width="6.10" height="8.23" fill="#000aff"/>
<rect x="556.94" y="75.81" width="6.09" height="8.23" fill="#15001a"/>
<rect x="563.03" y="75.81" width="6.10" height="8.23" fill="#2f0042"/>
<rect x="392.37" y="84.03" width="6.10" height="8.23" fill="#15001a"/>
<rect x="398.47" y="84.03" width="18.28" height="8.23" fill="#2f0042"/>
<rect x="416.75" y="84.03" width="12.19" height="8.23" fill="#5c00aa"/>
<rect x="428.94" y="84.03" width="6.09" height="8.23" fill="#15001a"/>
<rect x="435.04" y="84.03" width="6.09" height="8.23" fill="#005eff"/>
<rect x="441.13" y="84.03" width="12.19" height="8.23" fill="#4600e6"/>
<rect x="453.32" y="84.03" width="18.28" height="8.23" fill="#000aff"/>
<rect x="471.61" y="84.03" width="6.10" height="8.23" fill="#fcff00"/>
<rect x="477.70" y="84.03" width="6.09" height="8.23" fill="#00ff66"/>
<rect x="483.80" y="84.03" width="6.09" height="8.23" fill="#00ffff"/>
<rect x="489.89" y="84.03" width="6.10" height="8.23" fill="#00ff00"/>
<rect x="495.99" y="84.03" width="6.10" height="8.23" fill="#00b0ff"/>
<rect x="502.08" y="84.03" width="18.28" height="8.23" fill="#80ff00"/>
<rect x="520.37" y="84.03" width="12.19" height="8.23" fill="#fcff00"/>
<rect x="532.56" y="84.03" width="6.10" height="8.23" fill="#005eff"/>
<rect x="538.65" y="84.03" width="6.09" height="8.23" fill="#5c00aa"/>
<rect x="544.75" y="84.03" width="6.10" height="8.23" fill="#000aff"/>
<rect x="550.84" y="84.03" width="6.10" height="8.23" fill="#5c00aa"/>
<rect x="556.94" y="84.03" width="6.09" height="8.23" fill="#4e0076"/>
<rect x="392.37" y="92.26" width="18.29" height="8.23" fill="#2f0042"/>
<rect x="410.66" y="92.26" width="6.09" height="8.23" fill="#5c00aa"/>
<rect x="416.75" y="92.26" width="6.10" height="8.23" fill="#000aff"/>
<rect x="422.85" y="92.26" width="6.10" height="8.23" fill="#5c00aa"/>
<rect x="428.94" y="92.26" width="6.09" height="8.23" fill="#000aff"/>
<rect x="435.04" y="92.26" width="6.09" height="8.23" fill="#5c00aa"/>
<rect x="441.13" y="92.26" width="6.10" height="8.23" fill="#00ffb3"/>
<rect x="447.23" y="92.26" width="6.10" height="8.23" fill="#005eff"/>
<rect x="453.32" y="92.26" width="6.09" height="8.23" fill="#00ffb3"/>
<rect x="459.42" y="92.26" width="6.09" height="8.23" fill="#00ff66"/>
<rect x="465.51" y="92.26" width="12.19" height="8.23" fill="#00ff00"/>
<rect x="477.70" y="92.26" width="6.09" height="8.23" fill="#00b0ff"/>
<rect x="483.80" y="92.26" width="6.09" height="8.23" fill="#00ff00"/>
<rect x="489.89" y="92.26" width="6.10" height="8.23" fill="#ff0000"/>
<rect x="495.99" y="92.26" width="6.10" height="8.23" fill="#ff4c00"/>
<rect x="502.08" y="92.26" width="18.28" height="8.23" fill="#ff0000"/>
<rect x="520.37" y="92.26" width="6.10" height="8.23" fill="#00ff00"/>
<rect x="526.46" y="92.26" width="6.10" height="8.23" fill="#80ff00"/>
<rect x="532.56" y="92.26" width="6.10" height="8.23" fill="#00b0ff"/>
<rect x="538.65" y="92.26" width="6.09" height="8.23" fill="#5c00aa"/>
<rect x="544.75" y="92.26" width="6.10" height="8.23" fill="#15001a"/>
<rect x="392.37" y="100.49" width="6.10" height="8.23" fill="#5c00aa"/>
<rect x="398.47" y="100.49" width="12.19" height="8.23" fill="#5100c8"/>
<rect x="410.66" y="100.49" width="6.09" height="8.23" fill="#5c00aa"/>
<rect x="416.75" y="100.49" width="6.10" height="8.23" fill="#4e0076"/>
<rect x="422.85" y="100.49" width="6.10" height="8.23" fill="#005eff"/>
<rect x="428.94" y="100.49" width="6.09" height="8.23" fill="#0088ff"/>
<rect x="435.04" y="100.49" width="6.09" height="8.23" fill="#000aff"/>
<rect x="441.13" y="100.49" width="6.10" height="8.23" fill="#00ffff"/>
<rect x="447.23" y="100.49" width="12.19" height="8.23" fill="#00b0ff"/>
<rect x="459.42" y="100.49" width="6.09" height="8.23" fill="#005eff"/>
<rect x="465.51" y="100.49" width="6.10" height="8.23" fill="#000aff"/>
<rect x="471.61" y="100.49" width="6.10" height="8.23" fill="#00ff66"/>
<rect x="477.70" y="100.49" width="6.09" height="8.23" fill="#80ff00"/>
<rect x="483.80" y="100.49" width="6.09" height="8.23" fill="#ffc900"/>
<rect x="489.89" y="100.49" width="30.48" height="8.23" fill="#ff0000"/>
<rect x="520.37" y="100.49" width="6.10" height="8.23" fill="#ff9000"/>
<rect x="526.46" y="100.49" width="6.10" height="8.23" fill="#000aff"/>
<rect x="532.56" y="100.49" width="6.10" height="8.23" fill="#2f0042"/>
<rect x="398.47" y="108.71" width="6.09" height="8.23" fill="#4e0076"/>
<rect x="404.56" y="108.71" width="12.19" height="8.23" fill="#000aff"/>
<rect x="416.75" y="108.71" width="6.10" height="8.23" fill="#5c00aa"/>
<rect x="422.85" y="108.71" width="6.10" height="8.23" fill="#005eff"/>
<rect x="428.94" y="108.71" width="6.09" height="8.23" fill="#0034ff"/>
<rect x="435.04" y="108.71" width="6.09" height="8.23" fill="#000aff"/>
<rect x="441.13" y="108.71" width="6.10" height="8.23" fill="#4600e6"/>
<rect x="447.23" y="108.71" width="6.10" height="8.23" fill="#00ff00"/>
<rect x="453.32" y="108.71" width="18.28" height="8.23" fill="#80ff00"/>
<rect x="471.61" y="108.71" width="6.10" height="8.23" fill="#00ff00"/>
<rect x="477.70" y="108.71" width="24.38" height="8.23" fill="#ff0000"/>
<rect x="502.08" y="108.71" width="6.10" height="8.23" fill="#ffc900"/>
<rect x="508.18" y="108.71" width="6.09" height="8.23" fill="#ff9000"/>
<rect x="514.27" y="108.71" width="6.10" height="8.23" fill="#00d7ff"/>
<rect x="398.47" y="116.94" width="6.09" height="8.23" fill="#15001a"/>
<rect x="404.56" y="116.94" width="6.10" height="8.23" fill="#000aff"/>
<rect x="410.66" y="116.94" width="6.09" height="8.23" fill="#4e0076"/>
<rect x="416.75" y="116.94" width="6.10" height="8.23" fill="#005eff"/>
<rect x="422.85" y="116.94" width="12.19" height="8.23" fill="#00ffff"/>
<rect x="435.04" y="116.94" width="6.09" height="8.23" fill="#005eff"/>
<rect x="441.13" y="116.94" width="6.10" height="8.23" fill="#00ff66"/>
<rect x="447.23" y="116.94" width="6.10" height="8.23" fill="#00ff00"/>
<rect x="453.32" y="116.94" width="6.09" height="8.23" fill="#fcff00"/>
<rect x="459.42" y="116.94" width="6.09" height="8.23" fill="#ff9000"/>
<rect x="465.51" y="116.94" width="36.57" height="8.23" fill="#ff0000"/>
<rect x="502.08" y="116.94" width="6.10" height="8.23" fill="#000aff"/>
<rect x="398.47" y="125.16" width="6.09" height="8.23" fill="#005eff"/>
<rect x="404.56" y="125.16" width="6.10" height="8.23" fill="#00b0ff"/>
<rect x="410.66" y="125.16" width="12.19" height="8.23" fill="#5c00aa"/>
<rect x="422.85" y="125.16" width="6.10" height="8.23" fill="#00b0ff"/>
<rect x="428.94" y="125.16" width="6.09" height="8.23" fill="#00ff00"/>
<rect x="435.04" y="125.16" width="6.09" height="8.23" fill="#00ffff"/>
<rect x="441.13" y="125.16" width="6.10" height="8.23" fill="#80ff00"/>
<rect x="447.23" y="125.16" width="6.10" height="8.23" fill="#00ffff"/>
<rect x="453.32" y="125.16" width="6.09" height="8.23" fill="#80ff00"/>
<rect x="459.42" y="125.16" width="12.19" height="8.23" fill="#ff9000"/>
<rect x="471.61" y="125.16" width="6.10" height="8.23" fill="#ff0000"/>
<rect x="477.70" y="125.16" width="6.09" height="8.23" fill="#00ffff"/>
<rect x="483.80" y="125.16" width="6.09" height="8.23" fill="#ff0000"/>
<rect x="489.89" y="125.16" width="6.10" height="8.23" fill="#80ff00"/>
<rect x="495.99" y="125.16" width="6.10" height="8.23" fill="#15001a"/>
<rect x="392.37" y="133.39" width="6.10" height="8.23" fill="#15001a"/>
<rect x="398.47" y="133.39" width="6.09" height="8.23" fill="#005eff"/>
<rect x="404.56" y="133.39" width="6.10" height="8.23" fill="#00b0ff"/>
<rect x="410.66" y="133.39" width="6.09" height="8.23" fill="#005eff"/>
<rect x="416.75" y="133.39" width="6.10" height="8.23" fill="#000aff"/>
<rect x="422.85" y="133.39" width="6.10" height="8.23" fill="#005eff"/>
<rect x="428.94" y="133.39" width="6.09" height="8.23" fill="#00b0ff"/>
<rect x="435.04" y="133.39" width="6.09" height="8.23" fill="#00ff00"/>
<rect x="441.13" y="133.39" width="6.10" height="8.23" fill="#ff4c00"/>
<rect x="447.23" y="133.39" width="6.10" height="8.23" fill="#ff9000"/>
<rect x="453.32" y="133.39" width="18.28" height="8.23" fill="#ff0000"/>
<rect x="471.61" y="133.39" width="12.19" height="8.23" fill="#00ff66"/>
<rect x="483.80" y="133.39" width="6.09" height="8.23" fill="#00b0ff"/>
<rect x="398.47" y="141.62" width="6.09" height="8.23" fill="#4e0076"/>
<rect x="404.56" y="141.62" width="6.10" height="8.23" fill="#00b0ff"/>
<rect x="410.66" y="141.62" width="6.09" height="8.23" fill="#00ff00"/>
<rect x="416.75" y="141.62" width="6.10" height="8.23" fill="#00ffff"/>
<rect x="422.85" y="141.62" width="6.10" height="8.23" fill="#00ffb3"/>
<rect x="428.94" y="141.62" width="6.09" height="8.23" fill="#00ff00"/>
<rect x="435.04" y="141.62" width="6.09" height="8.23" fill="#80ff00"/>
<rect x="441.13" y="141.62" width="6.10" height="8.23" fill="#00ffb3"/>
<rect x="447.23" y="141.62" width="6.10" height="8.23" fill="#80ff00"/>
<rect x="453.32" y="141.62" width="6.09" height="8.23" fill="#ff0000"/>
<rect x="459.42" y="141.62" width="6.09" height="8.23" fill="#ff9000"/>
<rect x="465.51" y="141.62" width="6.10" height="8.23" fill="#ff0000"/>
<rect x="471.61" y="141.62" width="6.10" height="8.23" fill="#00b0ff"/>
<rect x="392.37" y="149.84" width="6.10" height="8.23" fill="#15001a"/>
<rect x="404.56" y="149.84" width="12.19" height="8.23" fill="#00b0ff"/>
<rect x="416.75" y="149.84" width="6.10" height="8.23" fill="#00ff66"/>
<rect x="422.85" y="149.84" width="6.10" height="8.23" fill="#fcff00"/>
<rect x="428.94" y="149.84" width="6.09" height="8.23" fill="#00ffff"/>
<rect x="435.04" y="149.84" width="6.09" height="8.23" fill="#00ff00"/>
<rect x="441.13" y="149.84" width="6.10" height="8.23" fill="#ff0000"/>
<rect x="447.23" y="149.84" width="6.10" height="8.23" fill="#ff9000"/>
<rect x="453.32" y="149.84" width="6.09" height="8.23" fill="#ff0000"/>
<rect x="459.42" y="149.84" width="6.09" height="8.23" fill="#80ff00"/>
<rect x="465.51" y="149.84" width="6.10" height="8.23" fill="#00ff00"/>
<rect x="404.56" y="158.07" width="6.10" height="8.23" fill="#005eff"/>
<rect x="410.66" y="158.07" width="6.09" height="8.23" fill="#00ff00"/>
<rect x="416.75" y="158.07" width="6.10" height="8.23" fill="#00ff66"/>
<rect x="422.85" y="158.07" width="6.10" height="8.23" fill="#00ffb3"/>
<rect x="428.94" y="158.07" width="6.09" height="8.23" fill="#ff9000"/>
<rect x="435.04" y="158.07" width="6.09" height="8.23" fill="#00ff00"/>
<rect x="441.13" y="158.07" width="6.10" height="8.23" fill="#ff4c00"/>
<rect x="447.23" y="158.07" width="6.10" height="8.23" fill="#00ff00"/>
<rect x="453.32" y="158.07" width="6.09" height="8.23" fill="#ff9000"/>
<rect x="459.42" y="158.07" width="6.09" height="8.23" fill="#00ffff"/>
<rect x="404.56" y="166.29" width="6.10" height="8.23" fill="#005eff"/>
<rect x="410.66" y="166.29" width="6.09" height="8.23" fill="#00b0ff"/>
<rect x="416.75" y="166.29" width="6.10" height="8.23" fill="#00ff00"/>
<rect x="422.85" y="166.29" width="6.10" height="8.23" fill="#00ff66"/>
<rect x="428.94" y="166.29" width="6.09" height="8.23" fill="#00ff00"/>
<rect x="435.04" y="166.29" width="6.09" height="8.23" fill="#ff0000"/>
<rect x="441.13" y="166.29" width="6.10" height="8.23" fill="#80ff00"/>
<rect x="447.23" y="166.29" width="6.10" height="8.23" fill="#00ffff"/>
<rect x="453.32" y="166.29" width="6.09" height="8.23" fill="#00ff66"/>
<rect x="404.56" y="174.52" width="6.10" height="8.23" fill="#4e0076"/>
<rect x="410.66" y="174.52" width="6.09" height="8.23" fill="#00ffb3"/>
<rect x="416.75" y="174.52" width="6.10" height="8.23" fill="#00ffff"/>
<rect x="422.85" y="174.52" width="6.10" height="8.23" fill="#00ff00"/>
<rect x="428.94" y="174.52" width="6.09" height="8.23" fill="#ff9000"/>
<rect x="435.04" y="174.52" width="12.19" height="8.23" fill="#00ff00"/>
<rect x="447.23" y="174.52" width="6.10" height="8.23" fill="#00ffb3"/>
<rect x="453.32" y="174.52" width="6.09" height="8.23" fill="#15001a"/>
<rect x="410.66" y="182.75" width="6.09" height="8.23" fill="#00b0ff"/>
<rect x="416.75" y="182.75" width="12.19" height="8.23" fill="#00ff00"/>
<rect x="428.94" y="182.75" width="6.09" height="8.23" fill="#00ffb3"/>
<rect x="435.04" y="182.75" width="12.19" height="8.23" fill="#00ff00"/>
<rect x="447.23" y="182.75" width="6.10" height="8.23" fill="#4e0076"/>
<rect x="410.66" y="190.97" width="12.19" height="8.23" fill="#000aff"/>
<rect x="422.85" y="190.97" width="6.10" height="8.23" fill="#00ffff"/>
<rect x="428.94" y="190.97" width="6.09" height="8.23" fill="#000aff"/>
<rect x="435.04" y="190.97" width="6.09" height="8.23" fill="#005eff"/>
<rect x="441.13" y="190.97" width="6.10" height="8.23" fill="#4e0076"/>
<rect x="410.66" y="199.20" width="6.09" height="8.23" fill="#15001a"/>
<rect x="416.75" y="199.20" width="6.10" height="8.23" fill="#5c00aa"/>
<rect x="422.85" y="199.20" width="6.10" height="8.23" fill="#000aff"/>
<rect x="428.94" y="199.20" width="6.09" height="8.23" fill="#5c00aa"/>
<rect x="435.04" y="199.20" width="6.09" height="8.23" fill="#4e0076"/>
<rect x="416.75" y="207.42" width="6.10" height="8.23" fill="#4e0076"/>
<rect x="422.85" y="207.42" width="12.19" height="8.23" fill="#2f0042"/>
</g>
<g shape-rendering="crispEdges" filter="url(#bl)">
<rect x="118.75" y="294.38" width="60.95" height="9.35" fill="#000000"/>
<rect x="197.98" y="294.38" width="6.10" height="9.35" fill="#000000"/>
<rect x="112.65" y="303.73" width="6.09" height="9.35" fill="#000000"/>
<rect x="118.75" y="303.73" width="6.10" height="9.35" fill="#010001"/>
<rect x="124.84" y="303.73" width="6.09" height="9.35" fill="#020002"/>
<rect x="130.94" y="303.73" width="24.38" height="9.35" fill="#030003"/>
<rect x="155.31" y="303.73" width="6.10" height="9.35" fill="#020002"/>
<rect x="161.41" y="303.73" width="6.09" height="9.35" fill="#010001"/>
<rect x="167.50" y="303.73" width="42.67" height="9.35" fill="#000000"/>
<rect x="106.56" y="313.07" width="6.09" height="9.35" fill="#000000"/>
<rect x="112.65" y="313.07" width="6.09" height="9.35" fill="#010001"/>
<rect x="118.75" y="313.07" width="6.10" height="9.35" fill="#040005"/>
<rect x="124.84" y="313.07" width="6.09" height="9.35" fill="#08000b"/>
<rect x="130.94" y="313.07" width="18.29" height="9.35" fill="#0b000d"/>
<rect x="149.22" y="313.07" width="6.09" height="9.35" fill="#0a000c"/>
<rect x="155.31" y="313.07" width="6.10" height="9.35" fill="#070009"/>
<rect x="161.41" y="313.07" width="6.09" height="9.35" fill="#040005"/>
<rect x="167.50" y="313.07" width="6.10" height="9.35" fill="#020002"/>
<rect x="173.60" y="313.07" width="6.09" height="9.35" fill="#010001"/>
<rect x="179.70" y="313.07" width="42.66" height="9.35" fill="#000000"/>
<rect x="100.46" y="322.42" width="6.09" height="9.35" fill="#000000"/>
<rect x="106.56" y="322.42" width="6.09" height="9.35" fill="#010001"/>
<rect x="112.65" y="322.42" width="6.09" height="9.35" fill="#040005"/>
<rect x="118.75" y="322.42" width="6.10" height="9.35" fill="#0a000d"/>
<rect x="124.84" y="322.42" width="6.09" height="9.35" fill="#110015"/>
<rect x="130.94" y="322.42" width="18.29" height="9.35" fill="#120017"/>
<rect x="149.22" y="322.42" width="6.09" height="9.35" fill="#110015"/>
<rect x="155.31" y="322.42" width="6.10" height="9.35" fill="#0e0011"/>
<rect x="161.41" y="322.42" width="6.09" height="9.35" fill="#0a000d"/>
<rect x="167.50" y="322.42" width="6.10" height="9.35" fill="#070009"/>
<rect x="173.60" y="322.42" width="6.09" height="9.35" fill="#030004"/>
<rect x="179.70" y="322.42" width="6.09" height="9.35" fill="#010001"/>
<rect x="185.79" y="322.42" width="42.67" height="9.35" fill="#000000"/>
<rect x="234.55" y="322.42" width="18.29" height="9.35" fill="#000000"/>
<rect x="100.46" y="331.76" width="6.09" height="9.35" fill="#010001"/>
<rect x="106.56" y="331.76" width="6.09" height="9.35" fill="#040005"/>
<rect x="112.65" y="331.76" width="6.09" height="9.35" fill="#0b000d"/>
<rect x="118.75" y="331.76" width="6.10" height="9.35" fill="#130018"/>
<rect x="124.84" y="331.76" width="6.09" height="9.35" fill="#17001e"/>
<rect x="130.94" y="331.76" width="18.29" height="9.35" fill="#18001f"/>
<rect x="149.22" y="331.76" width="6.09" height="9.35" fill="#17001c"/>
<rect x="155.31" y="331.76" width="6.10" height="9.35" fill="#140018"/>
<rect x="161.41" y="331.76" width="6.09" height="9.35" fill="#110015"/>
<rect x="167.50" y="331.76" width="6.10" height="9.35" fill="#0e0011"/>
<rect x="173.60" y="331.76" width="6.09" height="9.35" fill="#09000b"/>
<rect x="179.70" y="331.76" width="6.09" height="9.35" fill="#040005"/>
<rect x="185.79" y="331.76" width="6.09" height="9.35" fill="#020002"/>
<rect x="191.88" y="331.76" width="6.10" height="9.35" fill="#010001"/>
<rect x="197.98" y="331.76" width="60.95" height="9.35" fill="#000000"/>
<rect x="94.37" y="341.11" width="6.09" height="9.35" fill="#010001"/>
<rect x="100.46" y="341.11" width="6.09" height="9.35" fill="#040005"/>
<rect x="106.56" y="341.11" width="6.09" height="9.35" fill="#0b000d"/>
<rect x="112.65" y="341.11" width="6.09" height="9.35" fill="#15001a"/>
<rect x="118.75" y="341.11" width="6.10" height="9.35" fill="#1f002a"/>
<rect x="124.84" y="341.11" width="6.09" height="9.35" fill="#230030"/>
<rect x="130.94" y="341.11" width="12.19" height="9.35" fill="#240031"/>
<rect x="143.12" y="341.11" width="6.10" height="9.35" fill="#230030"/>
<rect x="149.22" y="341.11" width="6.09" height="9.35" fill="#21002c"/>
<rect x="155.31" y="341.11" width="6.10" height="9.35" fill="#1c0025"/>
<rect x="161.41" y="341.11" width="6.09" height="9.35" fill="#190020"/>
<rect x="167.50" y="341.11" width="6.10" height="9.35" fill="#15001b"/>
<rect x="173.60" y="341.11" width="6.09" height="9.35" fill="#120016"/>
<rect x="179.70" y="341.11" width="6.09" height="9.35" fill="#0d0011"/>
<rect x="185.79" y="341.11" width="6.09" height="9.35" fill="#0a000c"/>
<rect x="191.88" y="341.11" width="6.10" height="9.35" fill="#050007"/>
<rect x="197.98" y="341.11" width="6.10" height="9.35" fill="#030004"/>
<rect x="204.08" y="341.11" width="6.09" height="9.35" fill="#020002"/>
<rect x="210.17" y="341.11" width="6.10" height="9.35" fill="#010001"/>
<rect x="216.27" y="341.11" width="42.66" height="9.35" fill="#000000"/>
<rect x="94.37" y="350.45" width="6.09" height="9.35" fill="#030004"/>
<rect x="100.46" y="350.45" width="6.09" height="9.35" fill="#0a000d"/>
<rect x="106.56" y="350.45" width="6.09" height="9.35" fill="#15001a"/>
<rect x="112.65" y="350.45" width="6.09" height="9.35" fill="#22002e"/>
<rect x="118.75" y="350.45" width="6.10" height="9.35" fill="#2f0042"/>
<rect x="124.84" y="350.45" width="6.09" height="9.35" fill="#3b0056"/>
<rect x="130.94" y="350.45" width="12.19" height="9.35" fill="#3d0059"/>
<rect x="143.12" y="350.45" width="6.10" height="9.35" fill="#3b0056"/>
<rect x="149.22" y="350.45" width="6.09" height="9.35" fill="#330048"/>
<rect x="155.31" y="350.45" width="6.10" height="9.35" fill="#300043"/>
<rect x="161.41" y="350.45" width="6.09" height="9.35" fill="#2d003e"/>
<rect x="167.50" y="350.45" width="6.10" height="9.35" fill="#23002f"/>
<rect x="173.60" y="350.45" width="6.09" height="9.35" fill="#1c0025"/>
<rect x="179.70" y="350.45" width="6.09" height="9.35" fill="#1d0026"/>
<rect x="185.79" y="350.45" width="6.09" height="9.35" fill="#17001c"/>
<rect x="191.88" y="350.45" width="6.10" height="9.35" fill="#110015"/>
<rect x="197.98" y="350.45" width="6.10" height="9.35" fill="#0c000f"/>
<rect x="204.08" y="350.45" width="6.09" height="9.35" fill="#08000b"/>
<rect x="210.17" y="350.45" width="6.10" height="9.35" fill="#040005"/>
<rect x="216.27" y="350.45" width="6.09" height="9.35" fill="#010001"/>
<rect x="222.36" y="350.45" width="36.57" height="9.35" fill="#000000"/>
<rect x="94.37" y="359.80" width="6.09" height="9.35" fill="#070008"/>
<rect x="100.46" y="359.80" width="6.09" height="9.35" fill="#120016"/>
<rect x="106.56" y="359.80" width="6.09" height="9.35" fill="#21002d"/>
<rect x="112.65" y="359.80" width="6.09" height="9.35" fill="#310046"/>
<rect x="118.75" y="359.80" width="6.10" height="9.35" fill="#48006c"/>
<rect x="124.84" y="359.80" width="6.09" height="9.35" fill="#50007f"/>
<rect x="130.94" y="359.80" width="6.10" height="9.35" fill="#4f007b"/>
<rect x="137.03" y="359.80" width="6.09" height="9.35" fill="#50007f"/>
<rect x="143.12" y="359.80" width="6.10" height="9.35" fill="#54008d"/>
<rect x="149.22" y="359.80" width="6.09" height="9.35" fill="#4e0076"/>
<rect x="155.31" y="359.80" width="6.10" height="9.35" fill="#4b0071"/>
<rect x="161.41" y="359.80" width="6.09" height="9.35" fill="#49006e"/>
<rect x="167.50" y="359.80" width="6.10" height="9.35" fill="#3a0054"/>
<rect x="173.60" y="359.80" width="6.09" height="9.35" fill="#2b003b"/>
<rect x="179.70" y="359.80" width="6.09" height="9.35" fill="#40005e"/>
<rect x="185.79" y="359.80" width="6.09" height="9.35" fill="#2e0040"/>
<rect x="191.88" y="359.80" width="6.10" height="9.35" fill="#1c0024"/>
<rect x="197.98" y="359.80" width="6.10" height="9.35" fill="#15001b"/>
<rect x="204.08" y="359.80" width="6.09" height="9.35" fill="#110015"/>
<rect x="210.17" y="359.80" width="6.10" height="9.35" fill="#0b000e"/>
<rect x="216.27" y="359.80" width="6.09" height="9.35" fill="#050007"/>
<rect x="222.36" y="359.80" width="6.10" height="9.35" fill="#020003"/>
<rect x="228.46" y="359.80" width="6.09" height="9.35" fill="#010001"/>
<rect x="234.55" y="359.80" width="24.38" height="9.35" fill="#000000"/>
<rect x="88.27" y="369.15" width="6.09" height="9.35" fill="#040005"/>
<rect x="94.37" y="369.15" width="6.09" height="9.35" fill="#0b000e"/>
<rect x="100.46" y="369.15" width="6.09" height="9.35" fill="#1a0021"/>
<rect x="106.56" y="369.15" width="6.09" height="9.35" fill="#310046"/>
<rect x="112.65" y="369.15" width="6.09" height="9.35" fill="#49006e"/>
<rect x="118.75" y="369.15" width="6.10" height="9.35" fill="#520085"/>
<rect x="124.84" y="369.15" width="12.19" height="9.35" fill="#570098"/>
<rect x="137.03" y="369.15" width="12.19" height="9.35" fill="#59009f"/>
<rect x="149.22" y="369.15" width="6.09" height="9.35" fill="#54008d"/>
<rect x="155.31" y="369.15" width="6.10" height="9.35" fill="#55008f"/>
<rect x="161.41" y="369.15" width="6.09" height="9.35" fill="#580099"/>
<rect x="167.50" y="369.15" width="6.10" height="9.35" fill="#4e0076"/>
<rect x="173.60" y="369.15" width="6.09" height="9.35" fill="#3d0059"/>
<rect x="179.70" y="369.15" width="6.09" height="9.35" fill="#54008c"/>
<rect x="185.79" y="369.15" width="6.09" height="9.35" fill="#4d0074"/>
<rect x="191.88" y="369.15" width="6.10" height="9.35" fill="#300044"/>
<rect x="197.98" y="369.15" width="6.10" height="9.35" fill="#23002f"/>
<rect x="204.08" y="369.15" width="6.09" height="9.35" fill="#1b0023"/>
<rect x="210.17" y="369.15" width="6.10" height="9.35" fill="#15001a"/>
<rect x="216.27" y="369.15" width="6.09" height="9.35" fill="#100014"/>
<rect x="222.36" y="369.15" width="6.10" height="9.35" fill="#09000b"/>
<rect x="228.46" y="369.15" width="6.09" height="9.35" fill="#020003"/>
<rect x="234.55" y="369.15" width="24.38" height="9.35" fill="#000000"/>
<rect x="88.27" y="378.49" width="6.09" height="9.35" fill="#050007"/>
<rect x="94.37" y="378.49" width="6.09" height="9.35" fill="#120016"/>
<rect x="100.46" y="378.49" width="6.09" height="9.35" fill="#390052"/>
<rect x="106.56" y="378.49" width="6.09" height="9.35" fill="#4e0076"/>
<rect x="112.65" y="378.49" width="6.09" height="9.35" fill="#560092"/>
<rect x="118.75" y="378.49" width="6.10" height="9.35" fill="#5c00a9"/>
<rect x="124.84" y="378.49" width="6.09" height="9.35" fill="#5900b1"/>
<rect x="130.94" y="378.49" width="6.10" height="9.35" fill="#5900b3"/>
<rect x="137.03" y="378.49" width="6.09" height="9.35" fill="#5900b1"/>
<rect x="143.12" y="378.49" width="6.10" height="9.35" fill="#5b00ad"/>
<rect x="149.22" y="378.49" width="6.09" height="9.35" fill="#5b00ac"/>
<rect x="155.31" y="378.49" width="6.10" height="9.35" fill="#1008f9"/>
<rect x="161.41" y="378.49" width="6.09" height="9.35" fill="#5200c5"/>
<rect x="167.50" y="378.49" width="6.10" height="9.35" fill="#5a00a1"/>
<rect x="173.60" y="378.49" width="6.09" height="9.35" fill="#4d0075"/>
<rect x="179.70" y="378.49" width="6.09" height="9.35" fill="#550091"/>
<rect x="185.79" y="378.49" width="6.09" height="9.35" fill="#520086"/>
<rect x="191.88" y="378.49" width="6.10" height="9.35" fill="#48006c"/>
<rect x="197.98" y="378.49" width="6.10" height="9.35" fill="#34004a"/>
<rect x="204.08" y="378.49" width="6.09" height="9.35" fill="#2a003a"/>
<rect x="210.17" y="378.49" width="6.10" height="9.35" fill="#21002d"/>
<rect x="216.27" y="378.49" width="6.09" height="9.35" fill="#190020"/>
<rect x="222.36" y="378.49" width="6.10" height="9.35" fill="#100014"/>
<rect x="228.46" y="378.49" width="6.09" height="9.35" fill="#060007"/>
<rect x="234.55" y="378.49" width="6.10" height="9.35" fill="#020002"/>
<rect x="240.65" y="378.49" width="12.19" height="9.35" fill="#010002"/>
<rect x="252.84" y="378.49" width="6.09" height="9.35" fill="#010001"/>
<rect x="88.27" y="387.84" width="6.09" height="9.35" fill="#060007"/>
<rect x="94.37" y="387.84" width="6.09" height="9.35" fill="#17001d"/>
<rect x="100.46" y="387.84" width="6.09" height="9.35" fill="#4d0074"/>
<rect x="106.56" y="387.84" width="6.09" height="9.35" fill="#5b00a5"/>
<rect x="112.65" y="387.84" width="6.09" height="9.35" fill="#4a00db"/>
<rect x="118.75" y="387.84" width="12.19" height="9.35" fill="#4700e4"/>
<rect x="130.94" y="387.84" width="6.10" height="9.35" fill="#4800e1"/>
<rect x="137.03" y="387.84" width="6.09" height="9.35" fill="#4d00d3"/>
<rect x="143.12" y="387.84" width="6.10" height="9.35" fill="#5300c4"/>
<rect x="149.22" y="387.84" width="6.09" height="9.35" fill="#2804f1"/>
<rect x="155.31" y="387.84" width="6.10" height="9.35" fill="#0042ff"/>
<rect x="161.41" y="387.84" width="6.09" height="9.35" fill="#000aff"/>
<rect x="167.50" y="387.84" width="6.10" height="9.35" fill="#5300c4"/>
<rect x="173.60" y="387.84" width="6.09" height="9.35" fill="#530087"/>
<rect x="179.70" y="387.84" width="6.09" height="9.35" fill="#55008e"/>
<rect x="185.79" y="387.84" width="6.09" height="9.35" fill="#54008c"/>
<rect x="191.88" y="387.84" width="6.10" height="9.35" fill="#50007f"/>
<rect x="197.98" y="387.84" width="6.10" height="9.35" fill="#49006e"/>
<rect x="204.08" y="387.84" width="6.09" height="9.35" fill="#380051"/>
<rect x="210.17" y="387.84" width="6.10" height="9.35" fill="#2f0042"/>
<rect x="216.27" y="387.84" width="6.09" height="9.35" fill="#240032"/>
<rect x="222.36" y="387.84" width="6.10" height="9.35" fill="#18001e"/>
<rect x="228.46" y="387.84" width="6.09" height="9.35" fill="#0e0011"/>
<rect x="234.55" y="387.84" width="6.10" height="9.35" fill="#08000a"/>
<rect x="240.65" y="387.84" width="12.19" height="9.35" fill="#050006"/>
<rect x="252.84" y="387.84" width="6.09" height="9.35" fill="#030004"/>
<rect x="88.27" y="397.18" width="6.09" height="9.35" fill="#060007"/>
<rect x="94.37" y="397.18" width="6.09" height="9.35" fill="#2d003e"/>
<rect x="100.46" y="397.18" width="6.09" height="9.35" fill="#55008e"/>
<rect x="106.56" y="397.18" width="6.09" height="9.35" fill="#4800e1"/>
<rect x="112.65" y="397.18" width="6.09" height="9.35" fill="#0709fd"/>
<rect x="118.75" y="397.18" width="6.10" height="9.35" fill="#002aff"/>
<rect x="124.84" y="397.18" width="6.09" height="9.35" fill="#002dff"/>
<rect x="130.94" y="397.18" width="6.10" height="9.35" fill="#0032ff"/>
<rect x="137.03" y="397.18" width="6.09" height="9.35" fill="#0074ff"/>
<rect x="143.12" y="397.18" width="6.10" height="9.35" fill="#3802eb"/>
<rect x="149.22" y="397.18" width="6.09" height="9.35" fill="#000eff"/>
<rect x="155.31" y="397.18" width="6.10" height="9.35" fill="#0078ff"/>
<rect x="161.41" y="397.18" width="6.09" height="9.35" fill="#005bff"/>
<rect x="167.50" y="397.18" width="6.10" height="9.35" fill="#2704f1"/>
<rect x="173.60" y="397.18" width="6.09" height="9.35" fill="#53008a"/>
<rect x="179.70" y="397.18" width="6.09" height="9.35" fill="#5a00a3"/>
<rect x="185.79" y="397.18" width="6.09" height="9.35" fill="#5600bb"/>
<rect x="191.88" y="397.18" width="6.10" height="9.35" fill="#5c00a9"/>
<rect x="197.98" y="397.18" width="6.10" height="9.35" fill="#560092"/>
<rect x="204.08" y="397.18" width="6.09" height="9.35" fill="#4f007b"/>
<rect x="210.17" y="397.18" width="6.10" height="9.35" fill="#49006d"/>
<rect x="216.27" y="397.18" width="6.09" height="9.35" fill="#3d005a"/>
<rect x="222.36" y="397.18" width="6.10" height="9.35" fill="#2b003c"/>
<rect x="228.46" y="397.18" width="6.09" height="9.35" fill="#16001c"/>
<rect x="234.55" y="397.18" width="6.10" height="9.35" fill="#0f0013"/>
<rect x="240.65" y="397.18" width="6.09" height="9.35" fill="#0a000c"/>
<rect x="246.74" y="397.18" width="6.10" height="9.35" fill="#0b000d"/>
<rect x="252.84" y="397.18" width="6.09" height="9.35" fill="#050007"/>
<rect x="88.27" y="406.53" width="6.09" height="9.35" fill="#050006"/>
<rect x="94.37" y="406.53" width="6.09" height="9.35" fill="#310046"/>
<rect x="100.46" y="406.53" width="6.09" height="9.35" fill="#5c00a9"/>
<rect x="106.56" y="406.53" width="6.09" height="9.35" fill="#000aff"/>
<rect x="112.65" y="406.53" width="6.09" height="9.35" fill="#0059ff"/>
<rect x="118.75" y="406.53" width="6.10" height="9.35" fill="#00a7ff"/>
<rect x="124.84" y="406.53" width="6.09" height="9.35" fill="#00deff"/>
<rect x="130.94" y="406.53" width="6.10" height="9.35" fill="#00fff3"/>
<rect x="137.03" y="406.53" width="6.09" height="9.35" fill="#00ffdd"/>
<rect x="143.12" y="406.53" width="6.10" height="9.35" fill="#003aff"/>
<rect x="149.22" y="406.53" width="12.19" height="9.35" fill="#00a9ff"/>
<rect x="161.41" y="406.53" width="6.09" height="9.35" fill="#008aff"/>
<rect x="167.50" y="406.53" width="6.10" height="9.35" fill="#1a06f6"/>
<rect x="173.60" y="406.53" width="6.09" height="9.35" fill="#560093"/>
<rect x="179.70" y="406.53" width="6.09" height="9.35" fill="#4a00db"/>
<rect x="185.79" y="406.53" width="6.09" height="9.35" fill="#2005f3"/>
<rect x="191.88" y="406.53" width="6.10" height="9.35" fill="#3f01e9"/>
<rect x="197.98" y="406.53" width="6.10" height="9.35" fill="#4a00da"/>
<rect x="204.08" y="406.53" width="6.09" height="9.35" fill="#5b00a8"/>
<rect x="210.17" y="406.53" width="6.10" height="9.35" fill="#55008e"/>
<rect x="216.27" y="406.53" width="6.09" height="9.35" fill="#50007c"/>
<rect x="222.36" y="406.53" width="6.10" height="9.35" fill="#47006a"/>
<rect x="228.46" y="406.53" width="6.09" height="9.35" fill="#1e0028"/>
<rect x="234.55" y="406.53" width="6.10" height="9.35" fill="#140019"/>
<rect x="240.65" y="406.53" width="6.09" height="9.35" fill="#0f0013"/>
<rect x="246.74" y="406.53" width="6.10" height="9.35" fill="#0e0011"/>
<rect x="252.84" y="406.53" width="6.09" height="9.35" fill="#08000a"/>
<rect x="88.27" y="415.87" width="6.09" height="9.35" fill="#060008"/>
<rect x="94.37" y="415.87" width="6.09" height="9.35" fill="#3e005b"/>
<rect x="100.46" y="415.87" width="6.09" height="9.35" fill="#4400e7"/>
<rect x="106.56" y="415.87" width="6.09" height="9.35" fill="#005eff"/>
<rect x="112.65" y="415.87" width="6.09" height="9.35" fill="#00a7ff"/>
<rect x="118.75" y="415.87" width="6.10" height="9.35" fill="#00ffe2"/>
<rect x="124.84" y="415.87" width="6.09" height="9.35" fill="#00ffbd"/>
<rect x="130.94" y="415.87" width="6.10" height="9.35" fill="#00ffbe"/>
<rect x="137.03" y="415.87" width="6.09" height="9.35" fill="#00ffc6"/>
<rect x="143.12" y="415.87" width="6.10" height="9.35" fill="#00ffef"/>
<rect x="149.22" y="415.87" width="6.09" height="9.35" fill="#00ff93"/>
<rect x="155.31" y="415.87" width="6.10" height="9.35" fill="#00e7ff"/>
<rect x="161.41" y="415.87" width="6.09" height="9.35" fill="#00cfff"/>
<rect x="167.50" y="415.87" width="6.10" height="9.35" fill="#0032ff"/>
<rect x="173.60" y="415.87" width="6.09" height="9.35" fill="#5500bc"/>
<rect x="179.70" y="415.87" width="6.09" height="9.35" fill="#3e01e9"/>
<rect x="185.79" y="415.87" width="6.09" height="9.35" fill="#0509fd"/>
<rect x="191.88" y="415.87" width="6.10" height="9.35" fill="#000eff"/>
<rect x="197.98" y="415.87" width="6.10" height="9.35" fill="#0047ff"/>
<rect x="204.08" y="415.87" width="6.09" height="9.35" fill="#030afe"/>
<rect x="210.17" y="415.87" width="6.10" height="9.35" fill="#2b04f0"/>
<rect x="216.27" y="415.87" width="6.09" height="9.35" fill="#5b00a5"/>
<rect x="222.36" y="415.87" width="6.10" height="9.35" fill="#53008a"/>
<rect x="228.46" y="415.87" width="6.09" height="9.35" fill="#310045"/>
<rect x="234.55" y="415.87" width="6.10" height="9.35" fill="#1f002a"/>
<rect x="240.65" y="415.87" width="6.09" height="9.35" fill="#130018"/>
<rect x="246.74" y="415.87" width="6.10" height="9.35" fill="#120016"/>
<rect x="252.84" y="415.87" width="6.09" height="9.35" fill="#0f0012"/>
<rect x="88.27" y="425.22" width="6.09" height="9.35" fill="#0f0012"/>
<rect x="94.37" y="425.22" width="6.09" height="9.35" fill="#48006c"/>
<rect x="100.46" y="425.22" width="6.09" height="9.35" fill="#0017ff"/>
<rect x="106.56" y="425.22" width="6.09" height="9.35" fill="#0088ff"/>
<rect x="112.65" y="425.22" width="6.09" height="9.35" fill="#00f3ff"/>
<rect x="118.75" y="425.22" width="6.10" height="9.35" fill="#00ff61"/>
<rect x="124.84" y="425.22" width="6.09" height="9.35" fill="#00ff2a"/>
<rect x="130.94" y="425.22" width="6.10" height="9.35" fill="#00ff06"/>
<rect x="137.03" y="425.22" width="6.09" height="9.35" fill="#08ff00"/>
<rect x="143.12" y="425.22" width="6.10" height="9.35" fill="#04ff00"/>
<rect x="149.22" y="425.22" width="6.09" height="9.35" fill="#00ff0d"/>
<rect x="155.31" y="425.22" width="6.10" height="9.35" fill="#00ff39"/>
<rect x="161.41" y="425.22" width="6.09" height="9.35" fill="#00ff5e"/>
<rect x="167.50" y="425.22" width="6.10" height="9.35" fill="#00f4ff"/>
<rect x="173.60" y="425.22" width="6.09" height="9.35" fill="#003dff"/>
<rect x="179.70" y="425.22" width="6.09" height="9.35" fill="#0071ff"/>
<rect x="185.79" y="425.22" width="6.09" height="9.35" fill="#0081ff"/>
<rect x="191.88" y="425.22" width="6.10" height="9.35" fill="#0097ff"/>
<rect x="197.98" y="425.22" width="6.10" height="9.35" fill="#00ffb7"/>
<rect x="204.08" y="425.22" width="6.09" height="9.35" fill="#00a7ff"/>
<rect x="210.17" y="425.22" width="6.10" height="9.35" fill="#00a6ff"/>
<rect x="216.27" y="425.22" width="6.09" height="9.35" fill="#0028ff"/>
<rect x="222.36" y="425.22" width="6.10" height="9.35" fill="#4a00dc"/>
<rect x="228.46" y="425.22" width="6.09" height="9.35" fill="#470069"/>
<rect x="234.55" y="425.22" width="6.10" height="9.35" fill="#280038"/>
<rect x="240.65" y="425.22" width="6.09" height="9.35" fill="#190021"/>
<rect x="246.74" y="425.22" width="6.10" height="9.35" fill="#18001f"/>
<rect x="252.84" y="425.22" width="6.09" height="9.35" fill="#16001c"/>
<rect x="88.27" y="434.56" width="6.09" height="9.35" fill="#19001f"/>
<rect x="94.37" y="434.56" width="6.09" height="9.35" fill="#4b0070"/>
<rect x="100.46" y="434.56" width="6.09" height="9.35" fill="#003bff"/>
<rect x="106.56" y="434.56" width="6.09" height="9.35" fill="#00b2ff"/>
<rect x="112.65" y="434.56" width="6.09" height="9.35" fill="#00ffe2"/>
<rect x="118.75" y="434.56" width="6.10" height="9.35" fill="#00ff0a"/>
<rect x="124.84" y="434.56" width="6.09" height="9.35" fill="#00ff05"/>
<rect x="130.94" y="434.56" width="6.10" height="9.35" fill="#0aff00"/>
<rect x="137.03" y="434.56" width="6.09" height="9.35" fill="#73ff00"/>
<rect x="143.12" y="434.56" width="6.10" height="9.35" fill="#c8ff00"/>
<rect x="149.22" y="434.56" width="6.09" height="9.35" fill="#fff800"/>
<rect x="155.31" y="434.56" width="6.10" height="9.35" fill="#ff8200"/>
<rect x="161.41" y="434.56" width="6.09" height="9.35" fill="#ff5300"/>
<rect x="167.50" y="434.56" width="6.10" height="9.35" fill="#ff7300"/>
<rect x="173.60" y="434.56" width="6.09" height="9.35" fill="#40ff00"/>
<rect x="179.70" y="434.56" width="6.09" height="9.35" fill="#ff0000"/>
<rect x="185.79" y="434.56" width="6.09" height="9.35" fill="#40ff00"/>
<rect x="191.88" y="434.56" width="6.10" height="9.35" fill="#4eff00"/>
<rect x="197.98" y="434.56" width="6.10" height="9.35" fill="#66ff00"/>
<rect x="204.08" y="434.56" width="6.09" height="9.35" fill="#00ff8b"/>
<rect x="210.17" y="434.56" width="6.10" height="9.35" fill="#00ff8a"/>
<rect x="216.27" y="434.56" width="6.09" height="9.35" fill="#00d1ff"/>
<rect x="222.36" y="434.56" width="6.10" height="9.35" fill="#000cff"/>
<rect x="228.46" y="434.56" width="6.09" height="9.35" fill="#450067"/>
<rect x="234.55" y="434.56" width="6.10" height="9.35" fill="#1d0027"/>
<rect x="240.65" y="434.56" width="6.09" height="9.35" fill="#1a0021"/>
<rect x="246.74" y="434.56" width="6.10" height="9.35" fill="#1b0023"/>
<rect x="252.84" y="434.56" width="6.09" height="9.35" fill="#17001d"/>
<rect x="88.27" y="443.91" width="6.09" height="9.35" fill="#1a0022"/>
<rect x="94.37" y="443.91" width="6.09" height="9.35" fill="#520084"/>
<rect x="100.46" y="443.91" width="6.09" height="9.35" fill="#0035ff"/>
<rect x="106.56" y="443.91" width="6.09" height="9.35" fill="#00f5ff"/>
<rect x="112.65" y="443.91" width="6.09" height="9.35" fill="#00ffcb"/>
<rect x="118.75" y="443.91" width="6.10" height="9.35" fill="#00ff07"/>
<rect x="124.84" y="443.91" width="6.09" height="9.35" fill="#00ff00"/>
<rect x="130.94" y="443.91" width="6.10" height="9.35" fill="#1fff00"/>
<rect x="137.03" y="443.91" width="6.09" height="9.35" fill="#f6ff00"/>
<rect x="143.12" y="443.91" width="6.10" height="9.35" fill="#ffdf00"/>
<rect x="149.22" y="443.91" width="6.09" height="9.35" fill="#ff6400"/>
<rect x="155.31" y="443.91" width="48.76" height="9.35" fill="#ff0000"/>
<rect x="204.08" y="443.91" width="6.09" height="9.35" fill="#00ff19"/>
<rect x="210.17" y="443.91" width="6.10" height="9.35" fill="#00ff6f"/>
<rect x="216.27" y="443.91" width="6.09" height="9.35" fill="#00e7ff"/>
<rect x="222.36" y="443.91" width="6.10" height="9.35" fill="#007dff"/>
<rect x="228.46" y="443.91" width="6.09" height="9.35" fill="#330049"/>
<rect x="234.55" y="443.91" width="6.10" height="9.35" fill="#16001b"/>
<rect x="240.65" y="443.91" width="6.09" height="9.35" fill="#130018"/>
<rect x="246.74" y="443.91" width="6.10" height="9.35" fill="#15001b"/>
<rect x="252.84" y="443.91" width="6.09" height="9.35" fill="#0f0013"/>
<rect x="88.27" y="453.25" width="6.09" height="9.35" fill="#1a0021"/>
<rect x="94.37" y="453.25" width="6.09" height="9.35" fill="#54008c"/>
<rect x="100.46" y="453.25" width="6.09" height="9.35" fill="#0017ff"/>
<rect x="106.56" y="453.25" width="6.09" height="9.35" fill="#00c4ff"/>
<rect x="112.65" y="453.25" width="6.09" height="9.35" fill="#00fff9"/>
<rect x="118.75" y="453.25" width="6.10" height="9.35" fill="#00ff89"/>
<rect x="124.84" y="453.25" width="6.09" height="9.35" fill="#00ff59"/>
<rect x="130.94" y="453.25" width="6.10" height="9.35" fill="#03ff00"/>
<rect x="137.03" y="453.25" width="6.09" height="9.35" fill="#13ff00"/>
<rect x="143.12" y="453.25" width="6.10" height="9.35" fill="#42ff00"/>
<rect x="149.22" y="453.25" width="6.09" height="9.35" fill="#6fff00"/>
<rect x="155.31" y="453.25" width="6.10" height="9.35" fill="#ff6f00"/>
<rect x="161.41" y="453.25" width="24.38" height="9.35" fill="#ff0000"/>
<rect x="185.79" y="453.25" width="6.09" height="9.35" fill="#ff6f00"/>
<rect x="191.88" y="453.25" width="6.10" height="9.35" fill="#ff3700"/>
<rect x="197.98" y="453.25" width="6.10" height="9.35" fill="#ff0000"/>
<rect x="204.08" y="453.25" width="6.09" height="9.35" fill="#00ff5b"/>
<rect x="210.17" y="453.25" width="6.10" height="9.35" fill="#00b2ff"/>
<rect x="216.27" y="453.25" width="6.09" height="9.35" fill="#001aff"/>
<rect x="222.36" y="453.25" width="6.10" height="9.35" fill="#0018ff"/>
<rect x="228.46" y="453.25" width="6.09" height="9.35" fill="#20002b"/>
<rect x="234.55" y="453.25" width="6.10" height="9.35" fill="#0a000c"/>
<rect x="240.65" y="453.25" width="6.09" height="9.35" fill="#08000a"/>
<rect x="246.74" y="453.25" width="6.10" height="9.35" fill="#0b000d"/>
<rect x="252.84" y="453.25" width="6.09" height="9.35" fill="#070009"/>
</g>
<g shape-rendering="crispEdges" filter="url(#bl)">
<rect x="495.99" y="285.04" width="6.10" height="9.35" fill="#15001a"/>
<rect x="422.85" y="294.38" width="6.10" height="9.35" fill="#15001a"/>
<rect x="441.13" y="294.38" width="6.10" height="9.35" fill="#15001a"/>
<rect x="471.61" y="294.38" width="6.10" height="9.35" fill="#15001a"/>
<rect x="502.08" y="294.38" width="6.10" height="9.35" fill="#15001a"/>
<rect x="550.84" y="294.38" width="6.10" height="9.35" fill="#15001a"/>
<rect x="428.94" y="303.73" width="6.09" height="9.35" fill="#15001a"/>
<rect x="453.32" y="303.73" width="6.09" height="9.35" fill="#15001a"/>
<rect x="489.89" y="303.73" width="6.10" height="9.35" fill="#15001a"/>
<rect x="416.75" y="313.07" width="6.10" height="9.35" fill="#15001a"/>
<rect x="428.94" y="313.07" width="24.38" height="9.35" fill="#15001a"/>
<rect x="453.32" y="313.07" width="6.09" height="9.35" fill="#2f0042"/>
<rect x="459.42" y="313.07" width="6.09" height="9.35" fill="#15001a"/>
<rect x="483.80" y="313.07" width="6.09" height="9.35" fill="#15001a"/>
<rect x="422.85" y="322.42" width="6.10" height="9.35" fill="#15001a"/>
<rect x="428.94" y="322.42" width="6.09" height="9.35" fill="#2f0042"/>
<rect x="435.04" y="322.42" width="6.09" height="9.35" fill="#5c00aa"/>
<rect x="441.13" y="322.42" width="6.10" height="9.35" fill="#15001a"/>
<rect x="453.32" y="322.42" width="6.09" height="9.35" fill="#2f0042"/>
<rect x="459.42" y="322.42" width="6.09" height="9.35" fill="#15001a"/>
<rect x="477.70" y="322.42" width="24.38" height="9.35" fill="#15001a"/>
<rect x="538.65" y="322.42" width="6.09" height="9.35" fill="#15001a"/>
<rect x="550.84" y="322.42" width="18.28" height="9.35" fill="#15001a"/>
<rect x="404.56" y="331.76" width="6.10" height="9.35" fill="#15001a"/>
<rect x="435.04" y="331.76" width="6.09" height="9.35" fill="#15001a"/>
<rect x="441.13" y="331.76" width="6.10" height="9.35" fill="#4e0076"/>
<rect x="453.32" y="331.76" width="6.09" height="9.35" fill="#15001a"/>
<rect x="459.42" y="331.76" width="12.19" height="9.35" fill="#2f0042"/>
<rect x="471.61" y="331.76" width="6.10" height="9.35" fill="#4e0076"/>
<rect x="477.70" y="331.76" width="6.09" height="9.35" fill="#15001a"/>
<rect x="508.18" y="331.76" width="6.09" height="9.35" fill="#15001a"/>
<rect x="532.56" y="331.76" width="6.10" height="9.35" fill="#15001a"/>
<rect x="404.56" y="341.11" width="6.10" height="9.35" fill="#2f0042"/>
<rect x="410.66" y="341.11" width="6.09" height="9.35" fill="#15001a"/>
<rect x="428.94" y="341.11" width="6.09" height="9.35" fill="#000aff"/>
<rect x="435.04" y="341.11" width="6.09" height="9.35" fill="#2f0042"/>
<rect x="441.13" y="341.11" width="18.29" height="9.35" fill="#15001a"/>
<rect x="465.51" y="341.11" width="12.19" height="9.35" fill="#2f0042"/>
<rect x="532.56" y="341.11" width="6.10" height="9.35" fill="#15001a"/>
<rect x="410.66" y="350.45" width="6.09" height="9.35" fill="#15001a"/>
<rect x="416.75" y="350.45" width="6.10" height="9.35" fill="#4e0076"/>
<rect x="422.85" y="350.45" width="6.10" height="9.35" fill="#2f0042"/>
<rect x="428.94" y="350.45" width="6.09" height="9.35" fill="#4e0076"/>
<rect x="435.04" y="350.45" width="6.09" height="9.35" fill="#2f0042"/>
<rect x="441.13" y="350.45" width="6.10" height="9.35" fill="#4600e6"/>
<rect x="453.32" y="350.45" width="18.28" height="9.35" fill="#4e0076"/>
<rect x="471.61" y="350.45" width="6.10" height="9.35" fill="#15001a"/>
<rect x="477.70" y="350.45" width="6.09" height="9.35" fill="#2f0042"/>
<rect x="483.80" y="350.45" width="6.09" height="9.35" fill="#15001a"/>
<rect x="489.89" y="350.45" width="6.10" height="9.35" fill="#4e0076"/>
<rect x="495.99" y="350.45" width="12.19" height="9.35" fill="#15001a"/>
<rect x="508.18" y="350.45" width="6.09" height="9.35" fill="#2f0042"/>
<rect x="520.37" y="350.45" width="6.10" height="9.35" fill="#2f0042"/>
<rect x="404.56" y="359.80" width="6.10" height="9.35" fill="#15001a"/>
<rect x="416.75" y="359.80" width="6.10" height="9.35" fill="#15001a"/>
<rect x="422.85" y="359.80" width="12.19" height="9.35" fill="#3f005c"/>
<rect x="435.04" y="359.80" width="6.09" height="9.35" fill="#4e0076"/>
<rect x="441.13" y="359.80" width="6.10" height="9.35" fill="#550090"/>
<rect x="447.23" y="359.80" width="6.10" height="9.35" fill="#4e0076"/>
<rect x="453.32" y="359.80" width="6.09" height="9.35" fill="#5c00aa"/>
<rect x="459.42" y="359.80" width="6.09" height="9.35" fill="#4e0076"/>
<rect x="465.51" y="359.80" width="6.10" height="9.35" fill="#5c00aa"/>
<rect x="471.61" y="359.80" width="6.10" height="9.35" fill="#4e0076"/>
<rect x="477.70" y="359.80" width="6.09" height="9.35" fill="#15001a"/>
<rect x="483.80" y="359.80" width="12.19" height="9.35" fill="#4e0076"/>
<rect x="495.99" y="359.80" width="6.10" height="9.35" fill="#2f0042"/>
<rect x="502.08" y="359.80" width="12.19" height="9.35" fill="#15001a"/>
<rect x="514.27" y="359.80" width="6.10" height="9.35" fill="#2f0042"/>
<rect x="520.37" y="359.80" width="6.10" height="9.35" fill="#15001a"/>
<rect x="392.37" y="369.15" width="6.10" height="9.35" fill="#15001a"/>
<rect x="410.66" y="369.15" width="6.09" height="9.35" fill="#15001a"/>
<rect x="422.85" y="369.15" width="6.10" height="9.35" fill="#5100c8"/>
<rect x="428.94" y="369.15" width="6.09" height="9.35" fill="#5c00aa"/>
<rect x="435.04" y="369.15" width="6.09" height="9.35" fill="#000aff"/>
<rect x="441.13" y="369.15" width="6.10" height="9.35" fill="#2305f2"/>
<rect x="447.23" y="369.15" width="12.19" height="9.35" fill="#000aff"/>
<rect x="459.42" y="369.15" width="6.09" height="9.35" fill="#5c00aa"/>
<rect x="465.51" y="369.15" width="6.10" height="9.35" fill="#000aff"/>
<rect x="471.61" y="369.15" width="6.10" height="9.35" fill="#2f0042"/>
<rect x="477.70" y="369.15" width="6.09" height="9.35" fill="#15001a"/>
<rect x="483.80" y="369.15" width="6.09" height="9.35" fill="#5c00aa"/>
<rect x="489.89" y="369.15" width="6.10" height="9.35" fill="#550090"/>
<rect x="495.99" y="369.15" width="12.19" height="9.35" fill="#2f0042"/>
<rect x="508.18" y="369.15" width="6.09" height="9.35" fill="#4e0076"/>
<rect x="514.27" y="369.15" width="18.29" height="9.35" fill="#2f0042"/>
<rect x="404.56" y="378.49" width="6.10" height="9.35" fill="#3f005c"/>
<rect x="410.66" y="378.49" width="18.29" height="9.35" fill="#550090"/>
<rect x="428.94" y="378.49" width="6.09" height="9.35" fill="#000aff"/>
<rect x="435.04" y="378.49" width="6.09" height="9.35" fill="#4600e6"/>
<rect x="441.13" y="378.49" width="6.10" height="9.35" fill="#550090"/>
<rect x="447.23" y="378.49" width="6.10" height="9.35" fill="#000aff"/>
<rect x="453.32" y="378.49" width="6.09" height="9.35" fill="#4600e6"/>
<rect x="459.42" y="378.49" width="6.09" height="9.35" fill="#5c00aa"/>
<rect x="465.51" y="378.49" width="6.10" height="9.35" fill="#4600e6"/>
<rect x="471.61" y="378.49" width="6.10" height="9.35" fill="#000aff"/>
<rect x="477.70" y="378.49" width="6.09" height="9.35" fill="#4e0076"/>
<rect x="483.80" y="378.49" width="6.09" height="9.35" fill="#2f0042"/>
<rect x="489.89" y="378.49" width="6.10" height="9.35" fill="#5c00aa"/>
<rect x="502.08" y="378.49" width="6.10" height="9.35" fill="#2f0042"/>
<rect x="508.18" y="378.49" width="6.09" height="9.35" fill="#15001a"/>
<rect x="514.27" y="378.49" width="6.10" height="9.35" fill="#2f0042"/>
<rect x="520.37" y="378.49" width="6.10" height="9.35" fill="#15001a"/>
<rect x="532.56" y="378.49" width="6.10" height="9.35" fill="#15001a"/>
<rect x="556.94" y="378.49" width="6.09" height="9.35" fill="#15001a"/>
<rect x="392.37" y="387.84" width="6.10" height="9.35" fill="#22002e"/>
<rect x="398.47" y="387.84" width="6.09" height="9.35" fill="#4e0076"/>
<rect x="404.56" y="387.84" width="6.10" height="9.35" fill="#5c00aa"/>
<rect x="410.66" y="387.84" width="6.09" height="9.35" fill="#5100c8"/>
<rect x="416.75" y="387.84" width="6.10" height="9.35" fill="#550090"/>
<rect x="422.85" y="387.84" width="6.10" height="9.35" fill="#0088ff"/>
<rect x="428.94" y="387.84" width="6.09" height="9.35" fill="#00b0ff"/>
<rect x="435.04" y="387.84" width="12.19" height="9.35" fill="#4600e6"/>
<rect x="447.23" y="387.84" width="6.10" height="9.35" fill="#000aff"/>
<rect x="453.32" y="387.84" width="6.09" height="9.35" fill="#00ff8d"/>
<rect x="459.42" y="387.84" width="6.09" height="9.35" fill="#00ff66"/>
<rect x="465.51" y="387.84" width="6.10" height="9.35" fill="#005eff"/>
<rect x="471.61" y="387.84" width="6.10" height="9.35" fill="#550090"/>
<rect x="477.70" y="387.84" width="6.09" height="9.35" fill="#5100c8"/>
<rect x="483.80" y="387.84" width="6.09" height="9.35" fill="#000aff"/>
<rect x="489.89" y="387.84" width="6.10" height="9.35" fill="#2f0042"/>
<rect x="502.08" y="387.84" width="12.19" height="9.35" fill="#550090"/>
<rect x="514.27" y="387.84" width="6.10" height="9.35" fill="#5c00aa"/>
<rect x="532.56" y="387.84" width="6.10" height="9.35" fill="#2f0042"/>
<rect x="538.65" y="387.84" width="6.09" height="9.35" fill="#15001a"/>
<rect x="550.84" y="387.84" width="6.10" height="9.35" fill="#15001a"/>
<rect x="392.37" y="397.18" width="6.10" height="9.35" fill="#15001a"/>
<rect x="398.47" y="397.18" width="6.09" height="9.35" fill="#3f005c"/>
<rect x="404.56" y="397.18" width="6.10" height="9.35" fill="#5c00aa"/>
<rect x="410.66" y="397.18" width="12.19" height="9.35" fill="#000aff"/>
<rect x="422.85" y="397.18" width="6.10" height="9.35" fill="#00b0ff"/>
<rect x="428.94" y="397.18" width="12.19" height="9.35" fill="#005eff"/>
<rect x="441.13" y="397.18" width="6.10" height="9.35" fill="#40ff00"/>
<rect x="447.23" y="397.18" width="6.10" height="9.35" fill="#005eff"/>
<rect x="453.32" y="397.18" width="12.19" height="9.35" fill="#00b0ff"/>
<rect x="465.51" y="397.18" width="6.10" height="9.35" fill="#0088ff"/>
<rect x="471.61" y="397.18" width="6.10" height="9.35" fill="#5c00aa"/>
<rect x="483.80" y="397.18" width="12.19" height="9.35" fill="#000aff"/>
<rect x="495.99" y="397.18" width="6.10" height="9.35" fill="#15001a"/>
<rect x="502.08" y="397.18" width="6.10" height="9.35" fill="#550090"/>
<rect x="508.18" y="397.18" width="6.09" height="9.35" fill="#00d7ff"/>
<rect x="514.27" y="397.18" width="6.10" height="9.35" fill="#00ffff"/>
<rect x="520.37" y="397.18" width="6.10" height="9.35" fill="#5c00aa"/>
<rect x="526.46" y="397.18" width="6.10" height="9.35" fill="#2f0042"/>
<rect x="538.65" y="397.18" width="12.19" height="9.35" fill="#15001a"/>
<rect x="398.47" y="406.53" width="6.09" height="9.35" fill="#4e0076"/>
<rect x="404.56" y="406.53" width="6.10" height="9.35" fill="#4600e6"/>
<rect x="410.66" y="406.53" width="6.09" height="9.35" fill="#00ffff"/>
<rect x="416.75" y="406.53" width="6.10" height="9.35" fill="#00b0ff"/>
<rect x="422.85" y="406.53" width="6.10" height="9.35" fill="#00ff66"/>
<rect x="428.94" y="406.53" width="12.19" height="9.35" fill="#80ff00"/>
<rect x="441.13" y="406.53" width="6.10" height="9.35" fill="#00ff33"/>
<rect x="447.23" y="406.53" width="6.10" height="9.35" fill="#005eff"/>
<rect x="453.32" y="406.53" width="6.09" height="9.35" fill="#00ffb3"/>
<rect x="459.42" y="406.53" width="6.09" height="9.35" fill="#00ffff"/>
<rect x="465.51" y="406.53" width="6.10" height="9.35" fill="#005eff"/>
<rect x="471.61" y="406.53" width="6.10" height="9.35" fill="#5c00aa"/>
<rect x="477.70" y="406.53" width="6.09" height="9.35" fill="#4e0076"/>
<rect x="483.80" y="406.53" width="6.09" height="9.35" fill="#005eff"/>
<rect x="489.89" y="406.53" width="6.10" height="9.35" fill="#00ffff"/>
<rect x="495.99" y="406.53" width="6.10" height="9.35" fill="#5100c8"/>
<rect x="502.08" y="406.53" width="6.10" height="9.35" fill="#4600e6"/>
<rect x="508.18" y="406.53" width="6.09" height="9.35" fill="#5100c8"/>
<rect x="514.27" y="406.53" width="6.10" height="9.35" fill="#4600e6"/>
<rect x="520.37" y="406.53" width="6.10" height="9.35" fill="#4e0076"/>
<rect x="526.46" y="406.53" width="6.10" height="9.35" fill="#15001a"/>
<rect x="532.56" y="406.53" width="18.28" height="9.35" fill="#2f0042"/>
<rect x="550.84" y="406.53" width="12.19" height="9.35" fill="#15001a"/>
<rect x="392.37" y="415.87" width="6.10" height="9.35" fill="#15001a"/>
<rect x="398.47" y="415.87" width="6.09" height="9.35" fill="#2f0042"/>
<rect x="404.56" y="415.87" width="6.10" height="9.35" fill="#00b0ff"/>
<rect x="410.66" y="415.87" width="6.09" height="9.35" fill="#005eff"/>
<rect x="416.75" y="415.87" width="6.10" height="9.35" fill="#00ff00"/>
<rect x="422.85" y="415.87" width="6.10" height="9.35" fill="#00ffb3"/>
<rect x="428.94" y="415.87" width="6.09" height="9.35" fill="#00ff33"/>
<rect x="435.04" y="415.87" width="24.38" height="9.35" fill="#00ff00"/>
<rect x="459.42" y="415.87" width="6.09" height="9.35" fill="#00b0ff"/>
<rect x="465.51" y="415.87" width="6.10" height="9.35" fill="#00ffb3"/>
<rect x="471.61" y="415.87" width="6.10" height="9.35" fill="#4e0076"/>
<rect x="477.70" y="415.87" width="6.09" height="9.35" fill="#5c00aa"/>
<rect x="483.80" y="415.87" width="6.09" height="9.35" fill="#000aff"/>
<rect x="489.89" y="415.87" width="12.19" height="9.35" fill="#00b0ff"/>
<rect x="502.08" y="415.87" width="6.10" height="9.35" fill="#0088ff"/>
<rect x="508.18" y="415.87" width="6.09" height="9.35" fill="#000aff"/>
<rect x="514.27" y="415.87" width="6.10" height="9.35" fill="#0034ff"/>
<rect x="520.37" y="415.87" width="6.10" height="9.35" fill="#4600e6"/>
<rect x="526.46" y="415.87" width="12.19" height="9.35" fill="#4e0076"/>
<rect x="538.65" y="415.87" width="6.09" height="9.35" fill="#5c00aa"/>
<rect x="544.75" y="415.87" width="6.10" height="9.35" fill="#15001a"/>
<rect x="550.84" y="415.87" width="6.10" height="9.35" fill="#2f0042"/>
<rect x="556.94" y="415.87" width="6.09" height="9.35" fill="#15001a"/>
<rect x="398.47" y="425.22" width="6.09" height="9.35" fill="#15001a"/>
<rect x="404.56" y="425.22" width="6.10" height="9.35" fill="#005eff"/>
<rect x="410.66" y="425.22" width="6.09" height="9.35" fill="#00ffff"/>
<rect x="416.75" y="425.22" width="12.19" height="9.35" fill="#00ff00"/>
<rect x="428.94" y="425.22" width="6.09" height="9.35" fill="#ff9000"/>
<rect x="435.04" y="425.22" width="6.09" height="9.35" fill="#ff0000"/>
<rect x="441.13" y="425.22" width="6.10" height="9.35" fill="#ff9000"/>
<rect x="447.23" y="425.22" width="6.10" height="9.35" fill="#00ff00"/>
<rect x="453.32" y="425.22" width="6.09" height="9.35" fill="#beff00"/>
<rect x="459.42" y="425.22" width="6.09" height="9.35" fill="#00ffff"/>
<rect x="465.51" y="425.22" width="6.10" height="9.35" fill="#00ffb3"/>
<rect x="471.61" y="425.22" width="6.10" height="9.35" fill="#005eff"/>
<rect x="477.70" y="425.22" width="6.09" height="9.35" fill="#000aff"/>
<rect x="483.80" y="425.22" width="6.09" height="9.35" fill="#005eff"/>
<rect x="489.89" y="425.22" width="12.19" height="9.35" fill="#00ffff"/>
<rect x="502.08" y="425.22" width="6.10" height="9.35" fill="#00ff00"/>
<rect x="508.18" y="425.22" width="6.09" height="9.35" fill="#005eff"/>
<rect x="514.27" y="425.22" width="6.10" height="9.35" fill="#0034ff"/>
<rect x="520.37" y="425.22" width="12.19" height="9.35" fill="#005eff"/>
<rect x="532.56" y="425.22" width="6.10" height="9.35" fill="#15001a"/>
<rect x="538.65" y="425.22" width="6.09" height="9.35" fill="#2f0042"/>
<rect x="550.84" y="425.22" width="12.19" height="9.35" fill="#4e0076"/>
<rect x="392.37" y="434.56" width="6.10" height="9.35" fill="#15001a"/>
<rect x="398.47" y="434.56" width="6.09" height="9.35" fill="#5c00aa"/>
<rect x="404.56" y="434.56" width="6.10" height="9.35" fill="#0088ff"/>
<rect x="410.66" y="434.56" width="12.19" height="9.35" fill="#00ff00"/>
<rect x="422.85" y="434.56" width="6.10" height="9.35" fill="#00ff33"/>
<rect x="428.94" y="434.56" width="12.19" height="9.35" fill="#00ff00"/>
<rect x="441.13" y="434.56" width="6.10" height="9.35" fill="#40ff00"/>
<rect x="447.23" y="434.56" width="6.10" height="9.35" fill="#ff9000"/>
<rect x="453.32" y="434.56" width="6.09" height="9.35" fill="#ffc900"/>
<rect x="459.42" y="434.56" width="6.09" height="9.35" fill="#ff0000"/>
<rect x="465.51" y="434.56" width="6.10" height="9.35" fill="#ff9000"/>
<rect x="471.61" y="434.56" width="24.38" height="9.35" fill="#ff0000"/>
<rect x="495.99" y="434.56" width="6.10" height="9.35" fill="#00ff00"/>
<rect x="502.08" y="434.56" width="6.10" height="9.35" fill="#40ff00"/>
<rect x="508.18" y="434.56" width="12.19" height="9.35" fill="#00ff33"/>
<rect x="520.37" y="434.56" width="6.10" height="9.35" fill="#00ffff"/>
<rect x="526.46" y="434.56" width="6.10" height="9.35" fill="#00ffb3"/>
<rect x="532.56" y="434.56" width="6.10" height="9.35" fill="#550090"/>
<rect x="538.65" y="434.56" width="6.09" height="9.35" fill="#15001a"/>
<rect x="544.75" y="434.56" width="6.10" height="9.35" fill="#4e0076"/>
<rect x="550.84" y="434.56" width="6.10" height="9.35" fill="#4600e6"/>
<rect x="392.37" y="443.91" width="6.10" height="9.35" fill="#15001a"/>
<rect x="398.47" y="443.91" width="6.09" height="9.35" fill="#000aff"/>
<rect x="404.56" y="443.91" width="6.10" height="9.35" fill="#00ffff"/>
<rect x="410.66" y="443.91" width="6.09" height="9.35" fill="#00ff00"/>
<rect x="416.75" y="443.91" width="6.10" height="9.35" fill="#00ff33"/>
<rect x="422.85" y="443.91" width="6.10" height="9.35" fill="#fcff00"/>
<rect x="428.94" y="443.91" width="6.09" height="9.35" fill="#00ff00"/>
<rect x="435.04" y="443.91" width="6.09" height="9.35" fill="#80ff00"/>
<rect x="441.13" y="443.91" width="6.10" height="9.35" fill="#ff4c00"/>
<rect x="447.23" y="443.91" width="60.95" height="9.35" fill="#ff0000"/>
<rect x="508.18" y="443.91" width="6.09" height="9.35" fill="#00ffb3"/>
<rect x="514.27" y="443.91" width="6.10" height="9.35" fill="#00ff00"/>
<rect x="520.37" y="443.91" width="6.10" height="9.35" fill="#00ff8d"/>
<rect x="526.46" y="443.91" width="6.10" height="9.35" fill="#0034ff"/>
<rect x="532.56" y="443.91" width="6.10" height="9.35" fill="#550090"/>
<rect x="538.65" y="443.91" width="6.09" height="9.35" fill="#15001a"/>
<rect x="544.75" y="443.91" width="6.10" height="9.35" fill="#4e0076"/>
<rect x="563.03" y="443.91" width="6.10" height="9.35" fill="#15001a"/>
<rect x="392.37" y="453.25" width="6.10" height="9.35" fill="#2f0042"/>
<rect x="398.47" y="453.25" width="6.09" height="9.35" fill="#4e0076"/>
<rect x="404.56" y="453.25" width="6.10" height="9.35" fill="#000aff"/>
<rect x="410.66" y="453.25" width="6.09" height="9.35" fill="#0088ff"/>
<rect x="416.75" y="453.25" width="6.10" height="9.35" fill="#00ff00"/>
<rect x="422.85" y="453.25" width="6.10" height="9.35" fill="#80ff00"/>
<rect x="428.94" y="453.25" width="6.09" height="9.35" fill="#00ffff"/>
<rect x="435.04" y="453.25" width="6.09" height="9.35" fill="#fcff00"/>
<rect x="441.13" y="453.25" width="6.10" height="9.35" fill="#80ff00"/>
<rect x="447.23" y="453.25" width="6.10" height="9.35" fill="#00ff00"/>
<rect x="453.32" y="453.25" width="6.09" height="9.35" fill="#ff4c00"/>
<rect x="459.42" y="453.25" width="6.09" height="9.35" fill="#00ff66"/>
<rect x="465.51" y="453.25" width="6.10" height="9.35" fill="#fcff00"/>
<rect x="471.61" y="453.25" width="12.19" height="9.35" fill="#ff0000"/>
<rect x="483.80" y="453.25" width="6.09" height="9.35" fill="#beff00"/>
<rect x="489.89" y="453.25" width="6.10" height="9.35" fill="#ff0000"/>
<rect x="495.99" y="453.25" width="6.10" height="9.35" fill="#ff4c00"/>
<rect x="502.08" y="453.25" width="6.10" height="9.35" fill="#fcff00"/>
<rect x="508.18" y="453.25" width="6.09" height="9.35" fill="#beff00"/>
<rect x="514.27" y="453.25" width="6.10" height="9.35" fill="#0088ff"/>
<rect x="520.37" y="453.25" width="6.10" height="9.35" fill="#005eff"/>
<rect x="526.46" y="453.25" width="6.10" height="9.35" fill="#00ffff"/>
<rect x="532.56" y="453.25" width="6.10" height="9.35" fill="#15001a"/>
<rect x="544.75" y="453.25" width="6.10" height="9.35" fill="#15001a"/>
</g>
<clipPath id="c51"><rect x="51.70" y="10.00" width="255.99" height="205.65"/></clipPath>
<g clip-path="url(#c51)" fill="none">
<path d="M73.73 10.00 L74.32 20.64 L74.90 30.74 L75.49 40.34 L76.07 49.48 L76.66 58.19 L77.24 66.51 L77.83 74.45 L78.41 82.05 L79.00 89.31 L79.58 96.28 L80.17 102.96 L80.75 109.37 L81.34 115.52 L81.92 121.44 L82.51 127.13 L83.09 132.61 L83.68 137.89 L84.26 142.98 L84.85 147.90 L85.43 152.64 L86.02 157.22 L86.60 161.64 L87.19 165.92 L87.77 170.06 L88.36 174.07 L88.94 177.95 L89.53 181.72 L90.11 185.37 L90.70 188.90 L91.28 192.34 L91.87 195.67 L92.45 198.91 L93.03 202.06 L93.62 205.12 L94.20 208.09 L94.79 210.99 L95.37 213.80 L95.77 215.65 L95.96 214.76 L96.54 212.09 L97.13 209.48 L97.71 206.95 L98.30 204.48 L98.88 202.06 L99.47 199.71 L100.05 197.42 L100.64 195.18 L101.22 192.99 L101.81 190.86 L102.39 188.77 L102.98 186.73 L103.56 184.74 L104.15 182.79 L104.73 180.88 L105.32 179.02 L105.90 177.19 L106.49 175.41 L107.07 173.66 L107.66 171.95 L108.24 170.28 L108.83 168.64 L109.41 167.03 L110.00 165.45 L110.58 163.91 L111.17 162.39 L111.75 160.91 L112.34 159.45 L112.92 158.03 L113.51 156.63 L114.09 155.25 L114.68 153.90 L115.26 152.58 L115.85 151.28 L116.43 150.00 L117.02 148.75 L117.60 147.52 L118.19 146.31 L118.77 145.12 L119.35 143.95 L119.94 142.80 L120.52 141.67 L121.11 140.56 L121.69 139.47 L122.28 138.40 L122.86 137.34 L123.45 136.31 L124.03 135.28 L124.62 134.28 L125.20 133.29 L125.79 132.32 L126.37 131.36 L126.96 130.42 L127.54 129.49 L128.13 128.57 L128.71 127.67 L129.30 126.79 L129.88 125.91 L130.47 125.05 L131.05 124.20 L131.64 123.37 L132.22 122.54 L132.81 121.73 L133.39 120.93 L133.98 120.14 L134.56 119.37 L135.15 118.60 L135.73 117.84 L136.32 117.10 L136.90 116.36 L137.49 115.64 L138.07 114.92 L138.66 114.22 L139.24 113.52 L139.83 112.83 L140.41 112.16 L141.00 111.49 L141.58 110.83 L142.17 110.17 L142.75 109.53 L143.34 108.90 L143.92 108.27 L144.51 107.65 L145.09 107.04 L145.68 106.43 L146.26 105.84 L146.84 105.25 L147.43 104.67 L148.01 104.09 L148.60 103.52 L149.18 102.96 L149.77 102.41 L150.35 101.86 L150.94 101.32 L151.52 100.78 L152.11 100.25 L152.69 99.73 L153.28 99.22 L153.86 98.70 L154.45 98.20 L155.03 97.70 L155.62 97.21 L156.20 96.72 L156.79 96.24 L157.37 95.76 L157.96 95.29 L158.54 94.82 L159.13 94.36 L159.71 93.90 L160.30 93.45 L160.88 93.00 L161.47 92.56 L162.05 92.12 L162.64 91.69 L163.22 91.26 L163.81 90.84 L164.39 90.42 L164.98 90.00 L165.56 89.59 L166.15 89.18 L166.73 88.78 L167.32 88.38 L167.90 87.99 L168.49 87.60 L169.07 87.21 L169.66 86.83 L170.24 86.45 L170.83 86.07 L171.41 85.70 L172.00 85.33 L172.58 84.97 L173.16 84.61 L173.75 84.25 L174.33 83.90 L174.92 83.55 L175.50 83.20 L176.09 82.85 L176.67 82.51 L177.26 82.18 L177.84 81.84 L178.43 81.51 L179.01 81.18 L179.60 80.86 L180.18 80.53 L180.77 80.21 L181.35 79.90 L181.94 79.58 L182.52 79.27 L183.11 78.96 L183.69 78.66 L184.28 78.35 L184.86 78.05 L185.45 77.76 L186.03 77.46 L186.62 77.17 L187.20 76.88 L187.79 76.59 L188.37 76.31 L188.96 76.02 L189.54 75.74 L190.13 75.47 L190.71 75.19 L191.30 74.92 L191.88 74.65 L192.47 74.38 L193.05 74.11 L193.64 73.85 L194.22 73.59 L194.81 73.33 L195.39 73.07 L195.98 72.81 L196.56 72.56 L197.15 72.31 L197.73 72.06 L198.32 71.81 L198.90 71.56 L199.49 71.32 L200.07 71.08 L200.65 70.84 L201.24 70.60 L201.82 70.37 L202.41 70.13 L202.99 69.90 L203.58 69.67 L204.16 69.44 L204.75 69.21 L205.33 68.99 L205.92 68.76 L206.50 68.54 L207.09 68.32 L207.67 68.10 L208.26 67.88 L208.84 67.67 L209.43 67.46 L210.01 67.24 L210.60 67.03 L211.18 66.82 L211.77 66.62 L212.35 66.41 L212.94 66.20 L213.52 66.00 L214.11 65.80 L214.69 65.60 L215.28 65.40 L215.86 65.20 L216.45 65.01 L217.03 64.81 L217.62 64.62 L218.20 64.43 L218.79 64.24 L219.37 64.05 L219.96 63.86 L220.54 63.67 L221.13 63.49 L221.71 63.30 L222.30 63.12 L222.88 62.94 L223.47 62.76 L224.05 62.58 L224.64 62.40 L225.22 62.23 L225.81 62.05 L226.39 61.88 L226.97 61.70 L227.56 61.53 L228.14 61.36 L228.73 61.19 L229.31 61.02 L229.90 60.86 L230.48 60.69 L231.07 60.52 L231.65 60.36 L232.24 60.20 L232.82 60.03 L233.41 59.87 L233.99 59.71 L234.58 59.55 L235.16 59.40 L235.75 59.24 L236.33 59.08 L236.92 58.93 L237.50 58.77 L238.09 58.62 L238.67 58.47 L239.26 58.32 L239.84 58.17 L240.43 58.02 L241.01 57.87 L241.60 57.72 L242.18 57.58 L242.77 57.43 L243.35 57.29 L243.94 57.14 L244.52 57.00 L245.11 56.86 L245.69 56.72 L246.28 56.57 L246.86 56.44 L247.45 56.30 L248.03 56.16 L248.62 56.02 L249.20 55.89 L249.79 55.75 L250.37 55.61 L250.96 55.48 L251.54 55.35 L252.13 55.22 L252.71 55.08 L253.30 54.95 L253.88 54.82 L254.46 54.69 L255.05 54.57 L255.63 54.44 L256.22 54.31 L256.80 54.18 L257.39 54.06 L257.97 53.93 L258.56 53.81 L259.14 53.69 L259.73 53.56 L260.31 53.44 L260.90 53.32 L261.48 53.20 L262.07 53.08 L262.65 52.96 L263.24 52.84 L263.82 52.72 L264.41 52.60 L264.99 52.49 L265.58 52.37 L266.16 52.26 L266.75 52.14 L267.33 52.03 L267.92 51.91 L268.50 51.80 L269.09 51.69 L269.67 51.58 L270.26 51.46 L270.84 51.35 L271.43 51.24 L272.01 51.13 L272.60 51.03 L273.18 50.92 L273.77 50.81 L274.35 50.70 L274.94 50.60 L275.52 50.49 L276.11 50.38 L276.69 50.28 L277.28 50.17 L277.86 50.07 L278.45 49.97 L279.03 49.86 L279.62 49.76 L280.20 49.66 L280.78 49.56 L281.37 49.46 L281.95 49.36 L282.54 49.26 L283.12 49.16 L283.71 49.06 L284.29 48.96 L284.88 48.86 L285.46 48.77 L286.05 48.67 L286.63 48.57 L287.22 48.48 L287.80 48.38 L288.39 48.29 L288.97 48.19 L289.56 48.10 L290.14 48.01 L290.73 47.91 L291.31 47.82 L291.90 47.73 L292.48 47.64 L293.07 47.55 L293.65 47.46 L294.24 47.36 L294.82 47.27 L295.41 47.19 L295.99 47.10 L296.58 47.01 L297.16 46.92 L297.75 46.83 L298.33 46.74 L298.92 46.66 L299.50 46.57 L300.09 46.48 L300.67 46.40 L301.26 46.31 L301.84 46.23 L302.43 46.14 L303.01 46.06 L303.60 45.98 L304.18 45.89 L304.77 45.81 L305.35 45.73 L305.94 45.65 L306.52 45.56 L307.11 45.48 L307.69 45.40" stroke="#ff0000" stroke-width="0.8" stroke-opacity="0.9"/>
<path d="M82.18 10.00 L82.74 17.47 L83.30 24.68 L83.87 31.63 L84.43 38.34 L84.99 44.82 L85.56 51.09 L86.12 57.16 L86.69 63.02 L87.25 68.71 L87.81 74.21 L88.38 79.55 L88.94 84.72 L89.50 89.74 L90.07 94.61 L90.63 99.34 L91.20 103.94 L91.76 108.41 L92.32 112.75 L92.89 116.97 L93.45 121.08 L94.01 125.08 L94.58 128.98 L95.14 132.77 L95.71 136.47 L96.27 140.07 L96.83 143.58 L97.40 147.01 L97.96 150.35 L98.52 153.61 L99.09 156.80 L99.65 159.91 L100.22 162.95 L100.78 165.91 L101.34 168.81 L101.91 171.65 L102.47 174.42 L103.04 177.13 L103.60 179.79 L104.16 182.38 L104.73 184.92 L105.29 187.41 L105.85 189.84 L106.42 192.23 L106.98 194.56 L107.55 196.85 L108.11 199.10 L108.67 201.29 L109.24 203.45 L109.80 205.56 L110.36 207.64 L110.93 209.67 L111.49 211.67 L112.06 213.63 L112.62 215.55 L112.65 215.65 L113.18 213.87 L113.75 212.01 L114.31 210.19 L114.87 208.41 L115.44 206.65 L116.00 204.93 L116.57 203.23 L117.13 201.57 L117.69 199.93 L118.26 198.32 L118.82 196.74 L119.38 195.19 L119.95 193.66 L120.51 192.15 L121.08 190.67 L121.64 189.22 L122.20 187.78 L122.77 186.37 L123.33 184.98 L123.90 183.62 L124.46 182.27 L125.02 180.95 L125.59 179.64 L126.15 178.36 L126.71 177.09 L127.28 175.85 L127.84 174.62 L128.41 173.41 L128.97 172.22 L129.53 171.04 L130.10 169.88 L130.66 168.74 L131.22 167.62 L131.79 166.51 L132.35 165.41 L132.92 164.33 L133.48 163.27 L134.04 162.22 L134.61 161.19 L135.17 160.16 L135.73 159.16 L136.30 158.16 L136.86 157.18 L137.43 156.21 L137.99 155.26 L138.55 154.32 L139.12 153.39 L139.68 152.47 L140.25 151.56 L140.81 150.66 L141.37 149.78 L141.94 148.91 L142.50 148.04 L143.06 147.19 L143.63 146.35 L144.19 145.52 L144.76 144.70 L145.32 143.89 L145.88 143.09 L146.45 142.29 L147.01 141.51 L147.57 140.74 L148.14 139.97 L148.70 139.22 L149.27 138.47 L149.83 137.73 L150.39 137.00 L150.96 136.28 L151.52 135.57 L152.08 134.86 L152.65 134.17 L153.21 133.48 L153.78 132.79 L154.34 132.12 L154.90 131.45 L155.47 130.79 L156.03 130.14 L156.59 129.49 L157.16 128.86 L157.72 128.22 L158.29 127.60 L158.85 126.98 L159.41 126.37 L159.98 125.76 L160.54 125.16 L161.11 124.57 L161.67 123.98 L162.23 123.40 L162.80 122.82 L163.36 122.25 L163.92 121.69 L164.49 121.13 L165.05 120.58 L165.62 120.03 L166.18 119.49 L166.74 118.95 L167.31 118.42 L167.87 117.90 L168.43 117.38 L169.00 116.86 L169.56 116.35 L170.13 115.84 L170.69 115.34 L171.25 114.84 L171.82 114.35 L172.38 113.86 L172.94 113.38 L173.51 112.90 L174.07 112.43 L174.64 111.96 L175.20 111.49 L175.76 111.03 L176.33 110.57 L176.89 110.12 L177.46 109.67 L178.02 109.23 L178.58 108.79 L179.15 108.35 L179.71 107.92 L180.27 107.49 L180.84 107.06 L181.40 106.64 L181.97 106.22 L182.53 105.81 L183.09 105.40 L183.66 104.99 L184.22 104.58 L184.78 104.18 L185.35 103.79 L185.91 103.39 L186.48 103.00 L187.04 102.61 L187.60 102.23 L188.17 101.85 L188.73 101.47 L189.29 101.10 L189.86 100.72 L190.42 100.36 L190.99 99.99 L191.55 99.63 L192.11 99.27 L192.68 98.91 L193.24 98.56 L193.80 98.21 L194.37 97.86 L194.93 97.51 L195.50 97.17 L196.06 96.83 L196.62 96.49 L197.19 96.15 L197.75 95.82 L198.32 95.49 L198.88 95.16 L199.44 94.84 L200.01 94.52 L200.57 94.20 L201.13 93.88 L201.70 93.56 L202.26 93.25 L202.83 92.94 L203.39 92.63 L203.95 92.33 L204.52 92.02 L205.08 91.72 L205.64 91.42 L206.21 91.12 L206.77 90.83 L207.34 90.54 L207.90 90.25 L208.46 89.96 L209.03 89.67 L209.59 89.39 L210.15 89.10 L210.72 88.82 L211.28 88.54 L211.85 88.27 L212.41 87.99 L212.97 87.72 L213.54 87.45 L214.10 87.18 L214.67 86.91 L215.23 86.65 L215.79 86.39 L216.36 86.12 L216.92 85.86 L217.48 85.61 L218.05 85.35 L218.61 85.10 L219.18 84.84 L219.74 84.59 L220.30 84.34 L220.87 84.09 L221.43 83.85 L221.99 83.60 L222.56 83.36 L223.12 83.12 L223.69 82.88 L224.25 82.64 L224.81 82.41 L225.38 82.17 L225.94 81.94 L226.50 81.71 L227.07 81.47 L227.63 81.25 L228.20 81.02 L228.76 80.79 L229.32 80.57 L229.89 80.34 L230.45 80.12 L231.01 79.90 L231.58 79.68 L232.14 79.46 L232.71 79.25 L233.27 79.03 L233.83 78.82 L234.40 78.61 L234.96 78.40 L235.53 78.19 L236.09 77.98 L236.65 77.77 L237.22 77.56 L237.78 77.36 L238.34 77.16 L238.91 76.95 L239.47 76.75 L240.04 76.55 L240.60 76.35 L241.16 76.16 L241.73 75.96 L242.29 75.77 L242.85 75.57 L243.42 75.38 L243.98 75.19 L244.55 75.00 L245.11 74.81 L245.67 74.62 L246.24 74.43 L246.80 74.25 L247.36 74.06 L247.93 73.88 L248.49 73.69 L249.06 73.51 L249.62 73.33 L250.18 73.15 L250.75 72.97 L251.31 72.79 L251.88 72.62 L252.44 72.44 L253.00 72.27 L253.57 72.09 L254.13 71.92 L254.69 71.75 L255.26 71.58 L255.82 71.41 L256.39 71.24 L256.95 71.07 L257.51 70.90 L258.08 70.74 L258.64 70.57 L259.20 70.41 L259.77 70.24 L260.33 70.08 L260.90 69.92 L261.46 69.76 L262.02 69.60 L262.59 69.44 L263.15 69.28 L263.71 69.12 L264.28 68.96 L264.84 68.81 L265.41 68.65 L265.97 68.50 L266.53 68.34 L267.10 68.19 L267.66 68.04 L268.22 67.89 L268.79 67.74 L269.35 67.59 L269.92 67.44 L270.48 67.29 L271.04 67.14 L271.61 67.00 L272.17 66.85 L272.74 66.71 L273.30 66.56 L273.86 66.42 L274.43 66.28 L274.99 66.13 L275.55 65.99 L276.12 65.85 L276.68 65.71 L277.25 65.57 L277.81 65.44 L278.37 65.30 L278.94 65.16 L279.50 65.02 L280.06 64.89 L280.63 64.75 L281.19 64.62 L281.76 64.48 L282.32 64.35 L282.88 64.22 L283.45 64.09 L284.01 63.96 L284.57 63.82 L285.14 63.69 L285.70 63.57 L286.27 63.44 L286.83 63.31 L287.39 63.18 L287.96 63.05 L288.52 62.93 L289.09 62.80 L289.65 62.68 L290.21 62.55 L290.78 62.43 L291.34 62.30 L291.90 62.18 L292.47 62.06 L293.03 61.94 L293.60 61.82 L294.16 61.70 L294.72 61.58 L295.29 61.46 L295.85 61.34 L296.41 61.22 L296.98 61.10 L297.54 60.99 L298.11 60.87 L298.67 60.75 L299.23 60.64 L299.80 60.52 L300.36 60.41 L300.92 60.29 L301.49 60.18 L302.05 60.07 L302.62 59.95 L303.18 59.84 L303.74 59.73 L304.31 59.62 L304.87 59.51 L305.43 59.40 L306.00 59.29 L306.56 59.18 L307.13 59.07 L307.69 58.96" stroke="#ff0000" stroke-width="0.8" stroke-opacity="0.9"/>
<path d="M130.94 215.65 L131.52 214.13 L132.11 212.64 L132.70 211.16 L133.29 209.71 L133.88 208.28 L134.47 206.87 L135.06 205.48 L135.65 204.10 L136.24 202.75 L136.83 201.42 L137.42 200.10 L138.01 198.80 L138.59 197.52 L139.18 196.26 L139.77 195.01 L140.36 193.78 L140.95 192.57 L141.54 191.37 L142.13 190.19 L142.72 189.03 L143.31 187.87 L143.90 186.74 L144.49 185.62 L145.08 184.51 L145.66 183.41 L146.25 182.33 L146.84 181.27 L147.43 180.21 L148.02 179.17 L148.61 178.14 L149.20 177.13 L149.79 176.12 L150.38 175.13 L150.97 174.15 L151.56 173.18 L152.15 172.22 L152.73 171.28 L153.32 170.34 L153.91 169.42 L154.50 168.50 L155.09 167.60 L155.68 166.71 L156.27 165.83 L156.86 164.95 L157.45 164.09 L158.04 163.24 L158.63 162.39 L159.22 161.56 L159.80 160.73 L160.39 159.91 L160.98 159.10 L161.57 158.31 L162.16 157.51 L162.75 156.73 L163.34 155.96 L163.93 155.19 L164.52 154.43 L165.11 153.68 L165.70 152.94 L166.29 152.20 L166.88 151.48 L167.46 150.76 L168.05 150.04 L168.64 149.34 L169.23 148.64 L169.82 147.95 L170.41 147.26 L171.00 146.59 L171.59 145.92 L172.18 145.25 L172.77 144.59 L173.36 143.94 L173.95 143.29 L174.53 142.66 L175.12 142.02 L175.71 141.39 L176.30 140.77 L176.89 140.16 L177.48 139.55 L178.07 138.94 L178.66 138.35 L179.25 137.75 L179.84 137.17 L180.43 136.58 L181.02 136.01 L181.60 135.44 L182.19 134.87 L182.78 134.31 L183.37 133.75 L183.96 133.20 L184.55 132.65 L185.14 132.11 L185.73 131.58 L186.32 131.04 L186.91 130.52 L187.50 129.99 L188.09 129.47 L188.67 128.96 L189.26 128.45 L189.85 127.95 L190.44 127.45 L191.03 126.95 L191.62 126.46 L192.21 125.97 L192.80 125.48 L193.39 125.00 L193.98 124.53 L194.57 124.06 L195.16 123.59 L195.75 123.12 L196.33 122.66 L196.92 122.20 L197.51 121.75 L198.10 121.30 L198.69 120.85 L199.28 120.41 L199.87 119.97 L200.46 119.54 L201.05 119.11 L201.64 118.68 L202.23 118.25 L202.82 117.83 L203.40 117.41 L203.99 117.00 L204.58 116.58 L205.17 116.17 L205.76 115.77 L206.35 115.36 L206.94 114.96 L207.53 114.57 L208.12 114.17 L208.71 113.78 L209.30 113.39 L209.89 113.01 L210.47 112.63 L211.06 112.25 L211.65 111.87 L212.24 111.50 L212.83 111.13 L213.42 110.76 L214.01 110.39 L214.60 110.03 L215.19 109.67 L215.78 109.31 L216.37 108.96 L216.96 108.60 L217.54 108.25 L218.13 107.90 L218.72 107.56 L219.31 107.22 L219.90 106.88 L220.49 106.54 L221.08 106.20 L221.67 105.87 L222.26 105.54 L222.85 105.21 L223.44 104.88 L224.03 104.56 L224.62 104.24 L225.20 103.92 L225.79 103.60 L226.38 103.28 L226.97 102.97 L227.56 102.66 L228.15 102.35 L228.74 102.04 L229.33 101.73 L229.92 101.43 L230.51 101.13 L231.10 100.83 L231.69 100.53 L232.27 100.24 L232.86 99.94 L233.45 99.65 L234.04 99.36 L234.63 99.08 L235.22 98.79 L235.81 98.51 L236.40 98.22 L236.99 97.94 L237.58 97.66 L238.17 97.39 L238.76 97.11 L239.34 96.84 L239.93 96.57 L240.52 96.30 L241.11 96.03 L241.70 95.76 L242.29 95.50 L242.88 95.23 L243.47 94.97 L244.06 94.71 L244.65 94.45 L245.24 94.19 L245.83 93.94 L246.41 93.68 L247.00 93.43 L247.59 93.18 L248.18 92.93 L248.77 92.68 L249.36 92.44 L249.95 92.19 L250.54 91.95 L251.13 91.71 L251.72 91.47 L252.31 91.23 L252.90 90.99 L253.49 90.75 L254.07 90.52 L254.66 90.28 L255.25 90.05 L255.84 89.82 L256.43 89.59 L257.02 89.36 L257.61 89.14 L258.20 88.91 L258.79 88.68 L259.38 88.46 L259.97 88.24 L260.56 88.02 L261.14 87.80 L261.73 87.58 L262.32 87.36 L262.91 87.15 L263.50 86.93 L264.09 86.72 L264.68 86.51 L265.27 86.30 L265.86 86.09 L266.45 85.88 L267.04 85.67 L267.63 85.46 L268.21 85.26 L268.80 85.05 L269.39 84.85 L269.98 84.65 L270.57 84.45 L271.16 84.25 L271.75 84.05 L272.34 83.85 L272.93 83.66 L273.52 83.46 L274.11 83.27 L274.70 83.07 L275.28 82.88 L275.87 82.69 L276.46 82.50 L277.05 82.31 L277.64 82.12 L278.23 81.93 L278.82 81.74 L279.41 81.56 L280.00 81.37 L280.59 81.19 L281.18 81.01 L281.77 80.83 L282.36 80.65 L282.94 80.47 L283.53 80.29 L284.12 80.11 L284.71 79.93 L285.30 79.75 L285.89 79.58 L286.48 79.40 L287.07 79.23 L287.66 79.06 L288.25 78.89 L288.84 78.71 L289.43 78.54 L290.01 78.37 L290.60 78.21 L291.19 78.04 L291.78 77.87 L292.37 77.71 L292.96 77.54 L293.55 77.38 L294.14 77.21 L294.73 77.05 L295.32 76.89 L295.91 76.73 L296.50 76.56 L297.08 76.40 L297.67 76.25 L298.26 76.09 L298.85 75.93 L299.44 75.77 L300.03 75.62 L300.62 75.46 L301.21 75.31 L301.80 75.15 L302.39 75.00 L302.98 74.85 L303.57 74.70 L304.15 74.54 L304.74 74.39 L305.33 74.25 L305.92 74.10 L306.51 73.95 L307.10 73.80 L307.69 73.65" stroke="#000" stroke-width="1.55"/>
</g>
<clipPath id="c355"><rect x="355.80" y="10.00" width="255.99" height="205.65"/></clipPath>
<g clip-path="url(#c355)" fill="none">
<path d="M377.83 10.00 L378.42 20.64 L379.00 30.74 L379.59 40.34 L380.17 49.48 L380.76 58.19 L381.34 66.51 L381.93 74.45 L382.51 82.05 L383.10 89.31 L383.68 96.28 L384.27 102.96 L384.85 109.37 L385.44 115.52 L386.02 121.44 L386.61 127.13 L387.19 132.61 L387.78 137.89 L388.36 142.98 L388.95 147.90 L389.53 152.64 L390.12 157.22 L390.70 161.64 L391.29 165.92 L391.87 170.06 L392.46 174.07 L393.04 177.95 L393.63 181.72 L394.21 185.37 L394.80 188.90 L395.38 192.34 L395.97 195.67 L396.55 198.91 L397.13 202.06 L397.72 205.12 L398.30 208.09 L398.89 210.99 L399.47 213.80 L399.87 215.65 L400.06 214.76 L400.64 212.09 L401.23 209.48 L401.81 206.95 L402.40 204.48 L402.98 202.06 L403.57 199.71 L404.15 197.42 L404.74 195.18 L405.32 192.99 L405.91 190.86 L406.49 188.77 L407.08 186.73 L407.66 184.74 L408.25 182.79 L408.83 180.88 L409.42 179.02 L410.00 177.19 L410.59 175.41 L411.17 173.66 L411.76 171.95 L412.34 170.28 L412.93 168.64 L413.51 167.03 L414.10 165.45 L414.68 163.91 L415.27 162.39 L415.85 160.91 L416.44 159.45 L417.02 158.03 L417.61 156.63 L418.19 155.25 L418.78 153.90 L419.36 152.58 L419.95 151.28 L420.53 150.00 L421.12 148.75 L421.70 147.52 L422.29 146.31 L422.87 145.12 L423.45 143.95 L424.04 142.80 L424.62 141.67 L425.21 140.56 L425.79 139.47 L426.38 138.40 L426.96 137.34 L427.55 136.31 L428.13 135.28 L428.72 134.28 L429.30 133.29 L429.89 132.32 L430.47 131.36 L431.06 130.42 L431.64 129.49 L432.23 128.57 L432.81 127.67 L433.40 126.79 L433.98 125.91 L434.57 125.05 L435.15 124.20 L435.74 123.37 L436.32 122.54 L436.91 121.73 L437.49 120.93 L438.08 120.14 L438.66 119.37 L439.25 118.60 L439.83 117.84 L440.42 117.10 L441.00 116.36 L441.59 115.64 L442.17 114.92 L442.76 114.22 L443.34 113.52 L443.93 112.83 L444.51 112.16 L445.10 111.49 L445.68 110.83 L446.27 110.17 L446.85 109.53 L447.44 108.90 L448.02 108.27 L448.61 107.65 L449.19 107.04 L449.78 106.43 L450.36 105.84 L450.94 105.25 L451.53 104.67 L452.11 104.09 L452.70 103.52 L453.28 102.96 L453.87 102.41 L454.45 101.86 L455.04 101.32 L455.62 100.78 L456.21 100.25 L456.79 99.73 L457.38 99.22 L457.96 98.70 L458.55 98.20 L459.13 97.70 L459.72 97.21 L460.30 96.72 L460.89 96.24 L461.47 95.76 L462.06 95.29 L462.64 94.82 L463.23 94.36 L463.81 93.90 L464.40 93.45 L464.98 93.00 L465.57 92.56 L466.15 92.12 L466.74 91.69 L467.32 91.26 L467.91 90.84 L468.49 90.42 L469.08 90.00 L469.66 89.59 L470.25 89.18 L470.83 88.78 L471.42 88.38 L472.00 87.99 L472.59 87.60 L473.17 87.21 L473.76 86.83 L474.34 86.45 L474.93 86.07 L475.51 85.70 L476.10 85.33 L476.68 84.97 L477.26 84.61 L477.85 84.25 L478.43 83.90 L479.02 83.55 L479.60 83.20 L480.19 82.85 L480.77 82.51 L481.36 82.18 L481.94 81.84 L482.53 81.51 L483.11 81.18 L483.70 80.86 L484.28 80.53 L484.87 80.21 L485.45 79.90 L486.04 79.58 L486.62 79.27 L487.21 78.96 L487.79 78.66 L488.38 78.35 L488.96 78.05 L489.55 77.76 L490.13 77.46 L490.72 77.17 L491.30 76.88 L491.89 76.59 L492.47 76.31 L493.06 76.02 L493.64 75.74 L494.23 75.47 L494.81 75.19 L495.40 74.92 L495.98 74.65 L496.57 74.38 L497.15 74.11 L497.74 73.85 L498.32 73.59 L498.91 73.33 L499.49 73.07 L500.08 72.81 L500.66 72.56 L501.25 72.31 L501.83 72.06 L502.42 71.81 L503.00 71.56 L503.59 71.32 L504.17 71.08 L504.75 70.84 L505.34 70.60 L505.92 70.37 L506.51 70.13 L507.09 69.90 L507.68 69.67 L508.26 69.44 L508.85 69.21 L509.43 68.99 L510.02 68.76 L510.60 68.54 L511.19 68.32 L511.77 68.10 L512.36 67.88 L512.94 67.67 L513.53 67.46 L514.11 67.24 L514.70 67.03 L515.28 66.82 L515.87 66.62 L516.45 66.41 L517.04 66.20 L517.62 66.00 L518.21 65.80 L518.79 65.60 L519.38 65.40 L519.96 65.20 L520.55 65.01 L521.13 64.81 L521.72 64.62 L522.30 64.43 L522.89 64.24 L523.47 64.05 L524.06 63.86 L524.64 63.67 L525.23 63.49 L525.81 63.30 L526.40 63.12 L526.98 62.94 L527.57 62.76 L528.15 62.58 L528.74 62.40 L529.32 62.23 L529.91 62.05 L530.49 61.88 L531.07 61.70 L531.66 61.53 L532.24 61.36 L532.83 61.19 L533.41 61.02 L534.00 60.86 L534.58 60.69 L535.17 60.52 L535.75 60.36 L536.34 60.20 L536.92 60.03 L537.51 59.87 L538.09 59.71 L538.68 59.55 L539.26 59.40 L539.85 59.24 L540.43 59.08 L541.02 58.93 L541.60 58.77 L542.19 58.62 L542.77 58.47 L543.36 58.32 L543.94 58.17 L544.53 58.02 L545.11 57.87 L545.70 57.72 L546.28 57.58 L546.87 57.43 L547.45 57.29 L548.04 57.14 L548.62 57.00 L549.21 56.86 L549.79 56.72 L550.38 56.57 L550.96 56.44 L551.55 56.30 L552.13 56.16 L552.72 56.02 L553.30 55.89 L553.89 55.75 L554.47 55.61 L555.06 55.48 L555.64 55.35 L556.23 55.22 L556.81 55.08 L557.40 54.95 L557.98 54.82 L558.56 54.69 L559.15 54.57 L559.73 54.44 L560.32 54.31 L560.90 54.18 L561.49 54.06 L562.07 53.93 L562.66 53.81 L563.24 53.69 L563.83 53.56 L564.41 53.44 L565.00 53.32 L565.58 53.20 L566.17 53.08 L566.75 52.96 L567.34 52.84 L567.92 52.72 L568.51 52.60 L569.09 52.49 L569.68 52.37 L570.26 52.26 L570.85 52.14 L571.43 52.03 L572.02 51.91 L572.60 51.80 L573.19 51.69 L573.77 51.58 L574.36 51.46 L574.94 51.35 L575.53 51.24 L576.11 51.13 L576.70 51.03 L577.28 50.92 L577.87 50.81 L578.45 50.70 L579.04 50.60 L579.62 50.49 L580.21 50.38 L580.79 50.28 L581.38 50.17 L581.96 50.07 L582.55 49.97 L583.13 49.86 L583.72 49.76 L584.30 49.66 L584.88 49.56 L585.47 49.46 L586.05 49.36 L586.64 49.26 L587.22 49.16 L587.81 49.06 L588.39 48.96 L588.98 48.86 L589.56 48.77 L590.15 48.67 L590.73 48.57 L591.32 48.48 L591.90 48.38 L592.49 48.29 L593.07 48.19 L593.66 48.10 L594.24 48.01 L594.83 47.91 L595.41 47.82 L596.00 47.73 L596.58 47.64 L597.17 47.55 L597.75 47.46 L598.34 47.36 L598.92 47.27 L599.51 47.19 L600.09 47.10 L600.68 47.01 L601.26 46.92 L601.85 46.83 L602.43 46.74 L603.02 46.66 L603.60 46.57 L604.19 46.48 L604.77 46.40 L605.36 46.31 L605.94 46.23 L606.53 46.14 L607.11 46.06 L607.70 45.98 L608.28 45.89 L608.87 45.81 L609.45 45.73 L610.04 45.65 L610.62 45.56 L611.21 45.48 L611.79 45.40" stroke="#ff0000" stroke-width="0.8" stroke-opacity="0.9"/>
<path d="M386.28 10.00 L386.84 17.47 L387.40 24.68 L387.97 31.63 L388.53 38.34 L389.09 44.82 L389.66 51.09 L390.22 57.16 L390.79 63.02 L391.35 68.71 L391.91 74.21 L392.48 79.55 L393.04 84.72 L393.60 89.74 L394.17 94.61 L394.73 99.34 L395.30 103.94 L395.86 108.41 L396.42 112.75 L396.99 116.97 L397.55 121.08 L398.11 125.08 L398.68 128.98 L399.24 132.77 L399.81 136.47 L400.37 140.07 L400.93 143.58 L401.50 147.01 L402.06 150.35 L402.62 153.61 L403.19 156.80 L403.75 159.91 L404.32 162.95 L404.88 165.91 L405.44 168.81 L406.01 171.65 L406.57 174.42 L407.14 177.13 L407.70 179.79 L408.26 182.38 L408.83 184.92 L409.39 187.41 L409.95 189.84 L410.52 192.23 L411.08 194.56 L411.65 196.85 L412.21 199.10 L412.77 201.29 L413.34 203.45 L413.90 205.56 L414.46 207.64 L415.03 209.67 L415.59 211.67 L416.16 213.63 L416.72 215.55 L416.75 215.65 L417.28 213.87 L417.85 212.01 L418.41 210.19 L418.97 208.41 L419.54 206.65 L420.10 204.93 L420.67 203.23 L421.23 201.57 L421.79 199.93 L422.36 198.32 L422.92 196.74 L423.48 195.19 L424.05 193.66 L424.61 192.15 L425.18 190.67 L425.74 189.22 L426.30 187.78 L426.87 186.37 L427.43 184.98 L428.00 183.62 L428.56 182.27 L429.12 180.95 L429.69 179.64 L430.25 178.36 L430.81 177.09 L431.38 175.85 L431.94 174.62 L432.51 173.41 L433.07 172.22 L433.63 171.04 L434.20 169.88 L434.76 168.74 L435.32 167.62 L435.89 166.51 L436.45 165.41 L437.02 164.33 L437.58 163.27 L438.14 162.22 L438.71 161.19 L439.27 160.16 L439.83 159.16 L440.40 158.16 L440.96 157.18 L441.53 156.21 L442.09 155.26 L442.65 154.32 L443.22 153.39 L443.78 152.47 L444.35 151.56 L444.91 150.66 L445.47 149.78 L446.04 148.91 L446.60 148.04 L447.16 147.19 L447.73 146.35 L448.29 145.52 L448.86 144.70 L449.42 143.89 L449.98 143.09 L450.55 142.29 L451.11 141.51 L451.67 140.74 L452.24 139.97 L452.80 139.22 L453.37 138.47 L453.93 137.73 L454.49 137.00 L455.06 136.28 L455.62 135.57 L456.18 134.86 L456.75 134.17 L457.31 133.48 L457.88 132.79 L458.44 132.12 L459.00 131.45 L459.57 130.79 L460.13 130.14 L460.69 129.49 L461.26 128.86 L461.82 128.22 L462.39 127.60 L462.95 126.98 L463.51 126.37 L464.08 125.76 L464.64 125.16 L465.21 124.57 L465.77 123.98 L466.33 123.40 L466.90 122.82 L467.46 122.25 L468.02 121.69 L468.59 121.13 L469.15 120.58 L469.72 120.03 L470.28 119.49 L470.84 118.95 L471.41 118.42 L471.97 117.90 L472.53 117.38 L473.10 116.86 L473.66 116.35 L474.23 115.84 L474.79 115.34 L475.35 114.84 L475.92 114.35 L476.48 113.86 L477.04 113.38 L477.61 112.90 L478.17 112.43 L478.74 111.96 L479.30 111.49 L479.86 111.03 L480.43 110.57 L480.99 110.12 L481.56 109.67 L482.12 109.23 L482.68 108.79 L483.25 108.35 L483.81 107.92 L484.37 107.49 L484.94 107.06 L485.50 106.64 L486.07 106.22 L486.63 105.81 L487.19 105.40 L487.76 104.99 L488.32 104.58 L488.88 104.18 L489.45 103.79 L490.01 103.39 L490.58 103.00 L491.14 102.61 L491.70 102.23 L492.27 101.85 L492.83 101.47 L493.39 101.10 L493.96 100.72 L494.52 100.36 L495.09 99.99 L495.65 99.63 L496.21 99.27 L496.78 98.91 L497.34 98.56 L497.90 98.21 L498.47 97.86 L499.03 97.51 L499.60 97.17 L500.16 96.83 L500.72 96.49 L501.29 96.15 L501.85 95.82 L502.42 95.49 L502.98 95.16 L503.54 94.84 L504.11 94.52 L504.67 94.20 L505.23 93.88 L505.80 93.56 L506.36 93.25 L506.93 92.94 L507.49 92.63 L508.05 92.33 L508.62 92.02 L509.18 91.72 L509.74 91.42 L510.31 91.12 L510.87 90.83 L511.44 90.54 L512.00 90.25 L512.56 89.96 L513.13 89.67 L513.69 89.39 L514.25 89.10 L514.82 88.82 L515.38 88.54 L515.95 88.27 L516.51 87.99 L517.07 87.72 L517.64 87.45 L518.20 87.18 L518.77 86.91 L519.33 86.65 L519.89 86.39 L520.46 86.12 L521.02 85.86 L521.58 85.61 L522.15 85.35 L522.71 85.10 L523.28 84.84 L523.84 84.59 L524.40 84.34 L524.97 84.09 L525.53 83.85 L526.09 83.60 L526.66 83.36 L527.22 83.12 L527.79 82.88 L528.35 82.64 L528.91 82.41 L529.48 82.17 L530.04 81.94 L530.60 81.71 L531.17 81.47 L531.73 81.25 L532.30 81.02 L532.86 80.79 L533.42 80.57 L533.99 80.34 L534.55 80.12 L535.11 79.90 L535.68 79.68 L536.24 79.46 L536.81 79.25 L537.37 79.03 L537.93 78.82 L538.50 78.61 L539.06 78.40 L539.63 78.19 L540.19 77.98 L540.75 77.77 L541.32 77.56 L541.88 77.36 L542.44 77.16 L543.01 76.95 L543.57 76.75 L544.14 76.55 L544.70 76.35 L545.26 76.16 L545.83 75.96 L546.39 75.77 L546.95 75.57 L547.52 75.38 L548.08 75.19 L548.65 75.00 L549.21 74.81 L549.77 74.62 L550.34 74.43 L550.90 74.25 L551.46 74.06 L552.03 73.88 L552.59 73.69 L553.16 73.51 L553.72 73.33 L554.28 73.15 L554.85 72.97 L555.41 72.79 L555.98 72.62 L556.54 72.44 L557.10 72.27 L557.67 72.09 L558.23 71.92 L558.79 71.75 L559.36 71.58 L559.92 71.41 L560.49 71.24 L561.05 71.07 L561.61 70.90 L562.18 70.74 L562.74 70.57 L563.30 70.41 L563.87 70.24 L564.43 70.08 L565.00 69.92 L565.56 69.76 L566.12 69.60 L566.69 69.44 L567.25 69.28 L567.81 69.12 L568.38 68.96 L568.94 68.81 L569.51 68.65 L570.07 68.50 L570.63 68.34 L571.20 68.19 L571.76 68.04 L572.32 67.89 L572.89 67.74 L573.45 67.59 L574.02 67.44 L574.58 67.29 L575.14 67.14 L575.71 67.00 L576.27 66.85 L576.84 66.71 L577.40 66.56 L577.96 66.42 L578.53 66.28 L579.09 66.13 L579.65 65.99 L580.22 65.85 L580.78 65.71 L581.35 65.57 L581.91 65.44 L582.47 65.30 L583.04 65.16 L583.60 65.02 L584.16 64.89 L584.73 64.75 L585.29 64.62 L585.86 64.48 L586.42 64.35 L586.98 64.22 L587.55 64.09 L588.11 63.96 L588.67 63.82 L589.24 63.69 L589.80 63.57 L590.37 63.44 L590.93 63.31 L591.49 63.18 L592.06 63.05 L592.62 62.93 L593.19 62.80 L593.75 62.68 L594.31 62.55 L594.88 62.43 L595.44 62.30 L596.00 62.18 L596.57 62.06 L597.13 61.94 L597.70 61.82 L598.26 61.70 L598.82 61.58 L599.39 61.46 L599.95 61.34 L600.51 61.22 L601.08 61.10 L601.64 60.99 L602.21 60.87 L602.77 60.75 L603.33 60.64 L603.90 60.52 L604.46 60.41 L605.02 60.29 L605.59 60.18 L606.15 60.07 L606.72 59.95 L607.28 59.84 L607.84 59.73 L608.41 59.62 L608.97 59.51 L609.53 59.40 L610.10 59.29 L610.66 59.18 L611.23 59.07 L611.79 58.96" stroke="#ff0000" stroke-width="0.8" stroke-opacity="0.9"/>
<path d="M435.04 215.65 L435.62 214.13 L436.21 212.64 L436.80 211.16 L437.39 209.71 L437.98 208.28 L438.57 206.87 L439.16 205.48 L439.75 204.10 L440.34 202.75 L440.93 201.42 L441.52 200.10 L442.11 198.80 L442.69 197.52 L443.28 196.26 L443.87 195.01 L444.46 193.78 L445.05 192.57 L445.64 191.37 L446.23 190.19 L446.82 189.03 L447.41 187.87 L448.00 186.74 L448.59 185.62 L449.18 184.51 L449.76 183.41 L450.35 182.33 L450.94 181.27 L451.53 180.21 L452.12 179.17 L452.71 178.14 L453.30 177.13 L453.89 176.12 L454.48 175.13 L455.07 174.15 L455.66 173.18 L456.25 172.22 L456.83 171.28 L457.42 170.34 L458.01 169.42 L458.60 168.50 L459.19 167.60 L459.78 166.71 L460.37 165.83 L460.96 164.95 L461.55 164.09 L462.14 163.24 L462.73 162.39 L463.32 161.56 L463.90 160.73 L464.49 159.91 L465.08 159.10 L465.67 158.31 L466.26 157.51 L466.85 156.73 L467.44 155.96 L468.03 155.19 L468.62 154.43 L469.21 153.68 L469.80 152.94 L470.39 152.20 L470.98 151.48 L471.56 150.76 L472.15 150.04 L472.74 149.34 L473.33 148.64 L473.92 147.95 L474.51 147.26 L475.10 146.59 L475.69 145.92 L476.28 145.25 L476.87 144.59 L477.46 143.94 L478.05 143.29 L478.63 142.66 L479.22 142.02 L479.81 141.39 L480.40 140.77 L480.99 140.16 L481.58 139.55 L482.17 138.94 L482.76 138.35 L483.35 137.75 L483.94 137.17 L484.53 136.58 L485.12 136.01 L485.70 135.44 L486.29 134.87 L486.88 134.31 L487.47 133.75 L488.06 133.20 L488.65 132.65 L489.24 132.11 L489.83 131.58 L490.42 131.04 L491.01 130.52 L491.60 129.99 L492.19 129.47 L492.77 128.96 L493.36 128.45 L493.95 127.95 L494.54 127.45 L495.13 126.95 L495.72 126.46 L496.31 125.97 L496.90 125.48 L497.49 125.00 L498.08 124.53 L498.67 124.06 L499.26 123.59 L499.85 123.12 L500.43 122.66 L501.02 122.20 L501.61 121.75 L502.20 121.30 L502.79 120.85 L503.38 120.41 L503.97 119.97 L504.56 119.54 L505.15 119.11 L505.74 118.68 L506.33 118.25 L506.92 117.83 L507.50 117.41 L508.09 117.00 L508.68 116.58 L509.27 116.17 L509.86 115.77 L510.45 115.36 L511.04 114.96 L511.63 114.57 L512.22 114.17 L512.81 113.78 L513.40 113.39 L513.99 113.01 L514.57 112.63 L515.16 112.25 L515.75 111.87 L516.34 111.50 L516.93 111.13 L517.52 110.76 L518.11 110.39 L518.70 110.03 L519.29 109.67 L519.88 109.31 L520.47 108.96 L521.06 108.60 L521.64 108.25 L522.23 107.90 L522.82 107.56 L523.41 107.22 L524.00 106.88 L524.59 106.54 L525.18 106.20 L525.77 105.87 L526.36 105.54 L526.95 105.21 L527.54 104.88 L528.13 104.56 L528.72 104.24 L529.30 103.92 L529.89 103.60 L530.48 103.28 L531.07 102.97 L531.66 102.66 L532.25 102.35 L532.84 102.04 L533.43 101.73 L534.02 101.43 L534.61 101.13 L535.20 100.83 L535.79 100.53 L536.37 100.24 L536.96 99.94 L537.55 99.65 L538.14 99.36 L538.73 99.08 L539.32 98.79 L539.91 98.51 L540.50 98.22 L541.09 97.94 L541.68 97.66 L542.27 97.39 L542.86 97.11 L543.44 96.84 L544.03 96.57 L544.62 96.30 L545.21 96.03 L545.80 95.76 L546.39 95.50 L546.98 95.23 L547.57 94.97 L548.16 94.71 L548.75 94.45 L549.34 94.19 L549.93 93.94 L550.51 93.68 L551.10 93.43 L551.69 93.18 L552.28 92.93 L552.87 92.68 L553.46 92.44 L554.05 92.19 L554.64 91.95 L555.23 91.71 L555.82 91.47 L556.41 91.23 L557.00 90.99 L557.59 90.75 L558.17 90.52 L558.76 90.28 L559.35 90.05 L559.94 89.82 L560.53 89.59 L561.12 89.36 L561.71 89.14 L562.30 88.91 L562.89 88.68 L563.48 88.46 L564.07 88.24 L564.66 88.02 L565.24 87.80 L565.83 87.58 L566.42 87.36 L567.01 87.15 L567.60 86.93 L568.19 86.72 L568.78 86.51 L569.37 86.30 L569.96 86.09 L570.55 85.88 L571.14 85.67 L571.73 85.46 L572.31 85.26 L572.90 85.05 L573.49 84.85 L574.08 84.65 L574.67 84.45 L575.26 84.25 L575.85 84.05 L576.44 83.85 L577.03 83.66 L577.62 83.46 L578.21 83.27 L578.80 83.07 L579.38 82.88 L579.97 82.69 L580.56 82.50 L581.15 82.31 L581.74 82.12 L582.33 81.93 L582.92 81.74 L583.51 81.56 L584.10 81.37 L584.69 81.19 L585.28 81.01 L585.87 80.83 L586.46 80.65 L587.04 80.47 L587.63 80.29 L588.22 80.11 L588.81 79.93 L589.40 79.75 L589.99 79.58 L590.58 79.40 L591.17 79.23 L591.76 79.06 L592.35 78.89 L592.94 78.71 L593.53 78.54 L594.11 78.37 L594.70 78.21 L595.29 78.04 L595.88 77.87 L596.47 77.71 L597.06 77.54 L597.65 77.38 L598.24 77.21 L598.83 77.05 L599.42 76.89 L600.01 76.73 L600.60 76.56 L601.18 76.40 L601.77 76.25 L602.36 76.09 L602.95 75.93 L603.54 75.77 L604.13 75.62 L604.72 75.46 L605.31 75.31 L605.90 75.15 L606.49 75.00 L607.08 74.85 L607.67 74.70 L608.25 74.54 L608.84 74.39 L609.43 74.25 L610.02 74.10 L610.61 73.95 L611.20 73.80 L611.79 73.65" stroke="#000" stroke-width="1.55"/>
</g>
<g stroke="#000" stroke-width="1.7" fill="none" stroke-linecap="butt">
<rect x="52.10" y="10.00" width="255.99" height="205.65" stroke-width="1.7"/>
<path stroke-width="1.5" d="M52.10 215.65 v-8.00 M52.10 10.00 v8.00 M64.29 215.65 v-4.40 M64.29 10.00 v4.40 M76.48 215.65 v-4.40 M76.48 10.00 v4.40 M88.67 215.65 v-4.40 M88.67 10.00 v4.40 M100.86 215.65 v-4.40 M100.86 10.00 v4.40 M113.05 215.65 v-8.00 M113.05 10.00 v8.00 M125.24 215.65 v-4.40 M125.24 10.00 v4.40 M137.43 215.65 v-4.40 M137.43 10.00 v4.40 M149.62 215.65 v-4.40 M149.62 10.00 v4.40 M161.81 215.65 v-4.40 M161.81 10.00 v4.40 M174.00 215.65 v-8.00 M174.00 10.00 v8.00 M186.19 215.65 v-4.40 M186.19 10.00 v4.40 M198.38 215.65 v-4.40 M198.38 10.00 v4.40 M210.57 215.65 v-4.40 M210.57 10.00 v4.40 M222.76 215.65 v-4.40 M222.76 10.00 v4.40 M234.95 215.65 v-8.00 M234.95 10.00 v8.00 M247.14 215.65 v-4.40 M247.14 10.00 v4.40 M259.33 215.65 v-4.40 M259.33 10.00 v4.40 M271.52 215.65 v-4.40 M271.52 10.00 v4.40 M283.71 215.65 v-4.40 M283.71 10.00 v4.40 M295.90 215.65 v-8.00 M295.90 10.00 v8.00 M308.09 215.65 v-4.40 M308.09 10.00 v4.40 M52.10 215.65 h8.00 M308.09 215.65 h-8.00 M52.10 195.09 h4.40 M308.09 195.09 h-4.40 M52.10 174.52 h8.00 M308.09 174.52 h-8.00 M52.10 153.95 h4.40 M308.09 153.95 h-4.40 M52.10 133.39 h8.00 M308.09 133.39 h-8.00 M52.10 112.83 h4.40 M308.09 112.83 h-4.40 M52.10 92.26 h8.00 M308.09 92.26 h-8.00 M52.10 71.69 h4.40 M308.09 71.69 h-4.40 M52.10 51.13 h8.00 M308.09 51.13 h-8.00 M52.10 30.56 h4.40 M308.09 30.56 h-4.40 M52.10 10.00 h8.00 M308.09 10.00 h-8.00"/>
</g>
<text x="51.70" y="236.85" class="t" text-anchor="middle">0</text>
<text x="112.65" y="236.85" class="t" text-anchor="middle">1</text>
<text x="173.60" y="236.85" class="t" text-anchor="middle">2</text>
<text x="234.55" y="236.85" class="t" text-anchor="middle">3</text>
<text x="295.50" y="236.85" class="t" text-anchor="middle">4</text>
<text transform="translate(39.70 216.25) rotate(-90)" class="t" text-anchor="middle">0</text>
<text transform="translate(39.70 173.12) rotate(-90)" class="t" text-anchor="middle">0.2</text>
<text transform="translate(39.70 131.99) rotate(-90)" class="t" text-anchor="middle">0.4</text>
<text transform="translate(39.70 90.86) rotate(-90)" class="t" text-anchor="middle">0.6</text>
<text transform="translate(39.70 49.73) rotate(-90)" class="t" text-anchor="middle">0.8</text>
<text transform="translate(39.70 11.30) rotate(-90)" class="t" text-anchor="middle">1</text>
<g stroke="#000" stroke-width="1.7" fill="none" stroke-linecap="butt">
<rect x="356.20" y="10.00" width="255.99" height="205.65" stroke-width="1.7"/>
<path stroke-width="1.5" d="M356.20 215.65 v-8.00 M356.20 10.00 v8.00 M368.39 215.65 v-4.40 M368.39 10.00 v4.40 M380.58 215.65 v-4.40 M380.58 10.00 v4.40 M392.77 215.65 v-4.40 M392.77 10.00 v4.40 M404.96 215.65 v-4.40 M404.96 10.00 v4.40 M417.15 215.65 v-8.00 M417.15 10.00 v8.00 M429.34 215.65 v-4.40 M429.34 10.00 v4.40 M441.53 215.65 v-4.40 M441.53 10.00 v4.40 M453.72 215.65 v-4.40 M453.72 10.00 v4.40 M465.91 215.65 v-4.40 M465.91 10.00 v4.40 M478.10 215.65 v-8.00 M478.10 10.00 v8.00 M490.29 215.65 v-4.40 M490.29 10.00 v4.40 M502.48 215.65 v-4.40 M502.48 10.00 v4.40 M514.67 215.65 v-4.40 M514.67 10.00 v4.40 M526.86 215.65 v-4.40 M526.86 10.00 v4.40 M539.05 215.65 v-8.00 M539.05 10.00 v8.00 M551.24 215.65 v-4.40 M551.24 10.00 v4.40 M563.43 215.65 v-4.40 M563.43 10.00 v4.40 M575.62 215.65 v-4.40 M575.62 10.00 v4.40 M587.81 215.65 v-4.40 M587.81 10.00 v4.40 M600.00 215.65 v-8.00 M600.00 10.00 v8.00 M612.19 215.65 v-4.40 M612.19 10.00 v4.40 M356.20 215.65 h8.00 M612.19 215.65 h-8.00 M356.20 195.09 h4.40 M612.19 195.09 h-4.40 M356.20 174.52 h8.00 M612.19 174.52 h-8.00 M356.20 153.95 h4.40 M612.19 153.95 h-4.40 M356.20 133.39 h8.00 M612.19 133.39 h-8.00 M356.20 112.83 h4.40 M612.19 112.83 h-4.40 M356.20 92.26 h8.00 M612.19 92.26 h-8.00 M356.20 71.69 h4.40 M612.19 71.69 h-4.40 M356.20 51.13 h8.00 M612.19 51.13 h-8.00 M356.20 30.56 h4.40 M612.19 30.56 h-4.40 M356.20 10.00 h8.00 M612.19 10.00 h-8.00"/>
</g>
<text x="355.80" y="236.85" class="t" text-anchor="middle">0</text>
<text x="416.75" y="236.85" class="t" text-anchor="middle">1</text>
<text x="477.70" y="236.85" class="t" text-anchor="middle">2</text>
<text x="538.65" y="236.85" class="t" text-anchor="middle">3</text>
<text x="599.60" y="236.85" class="t" text-anchor="middle">4</text>
<text transform="translate(343.80 216.25) rotate(-90)" class="t" text-anchor="middle">0</text>
<text transform="translate(343.80 173.12) rotate(-90)" class="t" text-anchor="middle">0.2</text>
<text transform="translate(343.80 131.99) rotate(-90)" class="t" text-anchor="middle">0.4</text>
<text transform="translate(343.80 90.86) rotate(-90)" class="t" text-anchor="middle">0.6</text>
<text transform="translate(343.80 49.73) rotate(-90)" class="t" text-anchor="middle">0.8</text>
<text transform="translate(343.80 11.30) rotate(-90)" class="t" text-anchor="middle">1</text>
<g stroke="#000" stroke-width="1.7" fill="none" stroke-linecap="butt">
<rect x="52.10" y="257.00" width="255.99" height="205.60" stroke-width="1.7"/>
<path stroke-width="1.5" d="M52.10 462.60 v-8.00 M52.10 257.00 v8.00 M64.29 462.60 v-4.40 M64.29 257.00 v4.40 M76.48 462.60 v-4.40 M76.48 257.00 v4.40 M88.67 462.60 v-4.40 M88.67 257.00 v4.40 M100.86 462.60 v-4.40 M100.86 257.00 v4.40 M113.05 462.60 v-8.00 M113.05 257.00 v8.00 M125.24 462.60 v-4.40 M125.24 257.00 v4.40 M137.43 462.60 v-4.40 M137.43 257.00 v4.40 M149.62 462.60 v-4.40 M149.62 257.00 v4.40 M161.81 462.60 v-4.40 M161.81 257.00 v4.40 M174.00 462.60 v-8.00 M174.00 257.00 v8.00 M186.19 462.60 v-4.40 M186.19 257.00 v4.40 M198.38 462.60 v-4.40 M198.38 257.00 v4.40 M210.57 462.60 v-4.40 M210.57 257.00 v4.40 M222.76 462.60 v-4.40 M222.76 257.00 v4.40 M234.95 462.60 v-8.00 M234.95 257.00 v8.00 M247.14 462.60 v-4.40 M247.14 257.00 v4.40 M259.33 462.60 v-4.40 M259.33 257.00 v4.40 M271.52 462.60 v-4.40 M271.52 257.00 v4.40 M283.71 462.60 v-4.40 M283.71 257.00 v4.40 M295.90 462.60 v-8.00 M295.90 257.00 v8.00 M308.09 462.60 v-4.40 M308.09 257.00 v4.40 M52.10 462.60 h8.00 M308.09 462.60 h-8.00 M52.10 439.24 h4.40 M308.09 439.24 h-4.40 M52.10 415.87 h8.00 M308.09 415.87 h-8.00 M52.10 392.51 h4.40 M308.09 392.51 h-4.40 M52.10 369.15 h8.00 M308.09 369.15 h-8.00 M52.10 345.78 h4.40 M308.09 345.78 h-4.40 M52.10 322.42 h8.00 M308.09 322.42 h-8.00 M52.10 299.05 h4.40 M308.09 299.05 h-4.40 M52.10 275.69 h8.00 M308.09 275.69 h-8.00"/>
</g>
<text x="51.70" y="483.80" class="t" text-anchor="middle">0</text>
<text x="112.65" y="483.80" class="t" text-anchor="middle">1</text>
<text x="173.60" y="483.80" class="t" text-anchor="middle">2</text>
<text x="234.55" y="483.80" class="t" text-anchor="middle">3</text>
<text x="295.50" y="483.80" class="t" text-anchor="middle">4</text>
<text transform="translate(39.70 463.10) rotate(-90)" class="t" text-anchor="middle">0</text>
<text transform="translate(39.70 415.47) rotate(-90)" class="t" text-anchor="middle">20</text>
<text transform="translate(39.70 368.75) rotate(-90)" class="t" text-anchor="middle">40</text>
<text transform="translate(39.70 322.02) rotate(-90)" class="t" text-anchor="middle">60</text>
<text transform="translate(39.70 275.29) rotate(-90)" class="t" text-anchor="middle">80</text>
<g stroke="#000" stroke-width="1.7" fill="none" stroke-linecap="butt">
<rect x="356.20" y="257.00" width="255.99" height="205.60" stroke-width="1.7"/>
<path stroke-width="1.5" d="M356.20 462.60 v-8.00 M356.20 257.00 v8.00 M368.39 462.60 v-4.40 M368.39 257.00 v4.40 M380.58 462.60 v-4.40 M380.58 257.00 v4.40 M392.77 462.60 v-4.40 M392.77 257.00 v4.40 M404.96 462.60 v-4.40 M404.96 257.00 v4.40 M417.15 462.60 v-8.00 M417.15 257.00 v8.00 M429.34 462.60 v-4.40 M429.34 257.00 v4.40 M441.53 462.60 v-4.40 M441.53 257.00 v4.40 M453.72 462.60 v-4.40 M453.72 257.00 v4.40 M465.91 462.60 v-4.40 M465.91 257.00 v4.40 M478.10 462.60 v-8.00 M478.10 257.00 v8.00 M490.29 462.60 v-4.40 M490.29 257.00 v4.40 M502.48 462.60 v-4.40 M502.48 257.00 v4.40 M514.67 462.60 v-4.40 M514.67 257.00 v4.40 M526.86 462.60 v-4.40 M526.86 257.00 v4.40 M539.05 462.60 v-8.00 M539.05 257.00 v8.00 M551.24 462.60 v-4.40 M551.24 257.00 v4.40 M563.43 462.60 v-4.40 M563.43 257.00 v4.40 M575.62 462.60 v-4.40 M575.62 257.00 v4.40 M587.81 462.60 v-4.40 M587.81 257.00 v4.40 M600.00 462.60 v-8.00 M600.00 257.00 v8.00 M612.19 462.60 v-4.40 M612.19 257.00 v4.40 M356.20 462.60 h8.00 M612.19 462.60 h-8.00 M356.20 439.24 h4.40 M612.19 439.24 h-4.40 M356.20 415.87 h8.00 M612.19 415.87 h-8.00 M356.20 392.51 h4.40 M612.19 392.51 h-4.40 M356.20 369.15 h8.00 M612.19 369.15 h-8.00 M356.20 345.78 h4.40 M612.19 345.78 h-4.40 M356.20 322.42 h8.00 M612.19 322.42 h-8.00 M356.20 299.05 h4.40 M612.19 299.05 h-4.40 M356.20 275.69 h8.00 M612.19 275.69 h-8.00"/>
</g>
<text x="355.80" y="483.80" class="t" text-anchor="middle">0</text>
<text x="416.75" y="483.80" class="t" text-anchor="middle">1</text>
<text x="477.70" y="483.80" class="t" text-anchor="middle">2</text>
<text x="538.65" y="483.80" class="t" text-anchor="middle">3</text>
<text x="599.60" y="483.80" class="t" text-anchor="middle">4</text>
<text transform="translate(343.80 463.10) rotate(-90)" class="t" text-anchor="middle">0</text>
<text transform="translate(343.80 415.47) rotate(-90)" class="t" text-anchor="middle">20</text>
<text transform="translate(343.80 368.75) rotate(-90)" class="t" text-anchor="middle">40</text>
<text transform="translate(343.80 322.02) rotate(-90)" class="t" text-anchor="middle">60</text>
<text transform="translate(343.80 275.29) rotate(-90)" class="t" text-anchor="middle">80</text>
<rect x="629.00" y="10.00" width="20.80" height="205.65" fill="url(#cb)"/>
<g stroke="#000" fill="none">
<path stroke-width="1.4" d="M629.00 9.50 V216.45 M649.80 9.50 V216.45"/>
<path stroke-width="1.2" d="M628.30 10.10 H650.50"/>
<path stroke-width="1.4" d="M629.00 207.42 h3.70 M649.80 207.42 h-3.70 M629.00 199.20 h3.70 M649.80 199.20 h-3.70 M629.00 190.97 h3.70 M649.80 190.97 h-3.70 M629.00 182.75 h3.70 M649.80 182.75 h-3.70 M629.00 174.52 h6.70 M649.80 174.52 h-6.70 M629.00 166.29 h3.70 M649.80 166.29 h-3.70 M629.00 158.07 h3.70 M649.80 158.07 h-3.70 M629.00 149.84 h3.70 M649.80 149.84 h-3.70 M629.00 141.62 h3.70 M649.80 141.62 h-3.70 M629.00 133.39 h6.70 M649.80 133.39 h-6.70 M629.00 125.16 h3.70 M649.80 125.16 h-3.70 M629.00 116.94 h3.70 M649.80 116.94 h-3.70 M629.00 108.71 h3.70 M649.80 108.71 h-3.70 M629.00 100.49 h3.70 M649.80 100.49 h-3.70 M629.00 92.26 h6.70 M649.80 92.26 h-6.70 M629.00 84.03 h3.70 M649.80 84.03 h-3.70 M629.00 75.81 h3.70 M649.80 75.81 h-3.70 M629.00 67.58 h3.70 M649.80 67.58 h-3.70 M629.00 59.36 h3.70 M649.80 59.36 h-3.70 M629.00 51.13 h6.70 M649.80 51.13 h-6.70 M629.00 42.90 h3.70 M649.80 42.90 h-3.70 M629.00 34.68 h3.70 M649.80 34.68 h-3.70 M629.00 26.45 h3.70 M649.80 26.45 h-3.70 M629.00 18.23 h3.70 M649.80 18.23 h-3.70"/>
</g>
<rect x="628.30" y="214.35" width="22.20" height="2.1" fill="#4c4c4c" shape-rendering="crispEdges"/>
<text transform="translate(666.90 215.35) rotate(-90)" class="t" style="font-size:14.2px" text-anchor="middle">0</text>
<text transform="translate(666.90 174.22) rotate(-90)" class="t" style="font-size:14.2px" text-anchor="middle">0.1</text>
<text transform="translate(666.90 133.09) rotate(-90)" class="t" style="font-size:14.2px" text-anchor="middle">0.2</text>
<text transform="translate(666.90 91.96) rotate(-90)" class="t" style="font-size:14.2px" text-anchor="middle">0.3</text>
<text transform="translate(666.90 50.83) rotate(-90)" class="t" style="font-size:14.2px" text-anchor="middle">0.4</text>
<text transform="translate(666.90 9.70) rotate(-90)" class="t" style="font-size:14.2px" text-anchor="middle">0.5</text>
<rect x="629.00" y="257.00" width="20.80" height="205.60" fill="url(#cb)"/>
<g stroke="#000" fill="none">
<path stroke-width="1.4" d="M629.00 256.50 V463.40 M649.80 256.50 V463.40"/>
<path stroke-width="0.9" stroke="#3a2a2a" d="M628.30 257.20 H650.50"/>
<path stroke-width="1.4" d="M629.00 454.38 h3.70 M649.80 454.38 h-3.70 M629.00 446.15 h3.70 M649.80 446.15 h-3.70 M629.00 437.93 h3.70 M649.80 437.93 h-3.70 M629.00 429.70 h3.70 M649.80 429.70 h-3.70 M629.00 421.48 h6.70 M649.80 421.48 h-6.70 M629.00 413.26 h3.70 M649.80 413.26 h-3.70 M629.00 405.03 h3.70 M649.80 405.03 h-3.70 M629.00 396.81 h3.70 M649.80 396.81 h-3.70 M629.00 388.58 h3.70 M649.80 388.58 h-3.70 M629.00 380.36 h6.70 M649.80 380.36 h-6.70 M629.00 372.14 h3.70 M649.80 372.14 h-3.70 M629.00 363.91 h3.70 M649.80 363.91 h-3.70 M629.00 355.69 h3.70 M649.80 355.69 h-3.70 M629.00 347.46 h3.70 M649.80 347.46 h-3.70 M629.00 339.24 h6.70 M649.80 339.24 h-6.70 M629.00 331.02 h3.70 M649.80 331.02 h-3.70 M629.00 322.79 h3.70 M649.80 322.79 h-3.70 M629.00 314.57 h3.70 M649.80 314.57 h-3.70 M629.00 306.34 h3.70 M649.80 306.34 h-3.70 M629.00 298.12 h6.70 M649.80 298.12 h-6.70 M629.00 289.90 h3.70 M649.80 289.90 h-3.70 M629.00 281.67 h3.70 M649.80 281.67 h-3.70 M629.00 273.45 h3.70 M649.80 273.45 h-3.70 M629.00 265.22 h3.70 M649.80 265.22 h-3.70"/>
</g>
<rect x="628.30" y="461.30" width="22.20" height="2.1" fill="#4c4c4c" shape-rendering="crispEdges"/>
<text transform="translate(666.90 462.30) rotate(-90)" class="t" style="font-size:14.2px" text-anchor="middle">0</text>
<text transform="translate(666.90 421.18) rotate(-90)" class="t" style="font-size:14.2px" text-anchor="middle">0.1</text>
<text transform="translate(666.90 380.06) rotate(-90)" class="t" style="font-size:14.2px" text-anchor="middle">0.2</text>
<text transform="translate(666.90 338.94) rotate(-90)" class="t" style="font-size:14.2px" text-anchor="middle">0.3</text>
<text transform="translate(666.90 297.82) rotate(-90)" class="t" style="font-size:14.2px" text-anchor="middle">0.4</text>
<text transform="translate(666.90 256.70) rotate(-90)" class="t" style="font-size:14.2px" text-anchor="middle">0.5</text>
<text class="s" x="179.39" y="510.8" text-anchor="middle" textLength="185.5" lengthAdjust="spacingAndGlyphs">Semimajor Axis (au)</text>
<text class="s" x="483.50" y="510.8" text-anchor="middle" textLength="185.5" lengthAdjust="spacingAndGlyphs">Semimajor Axis (au)</text>
<text class="s" transform="translate(15.8 112.3) rotate(-90)" text-anchor="middle" textLength="110" lengthAdjust="spacingAndGlyphs">Eccentricity</text>
<text class="s" transform="translate(15.8 360) rotate(-90)" text-anchor="middle" textLength="148.6" lengthAdjust="spacingAndGlyphs">Inclination (deg)</text>
</svg>
</body></html>
